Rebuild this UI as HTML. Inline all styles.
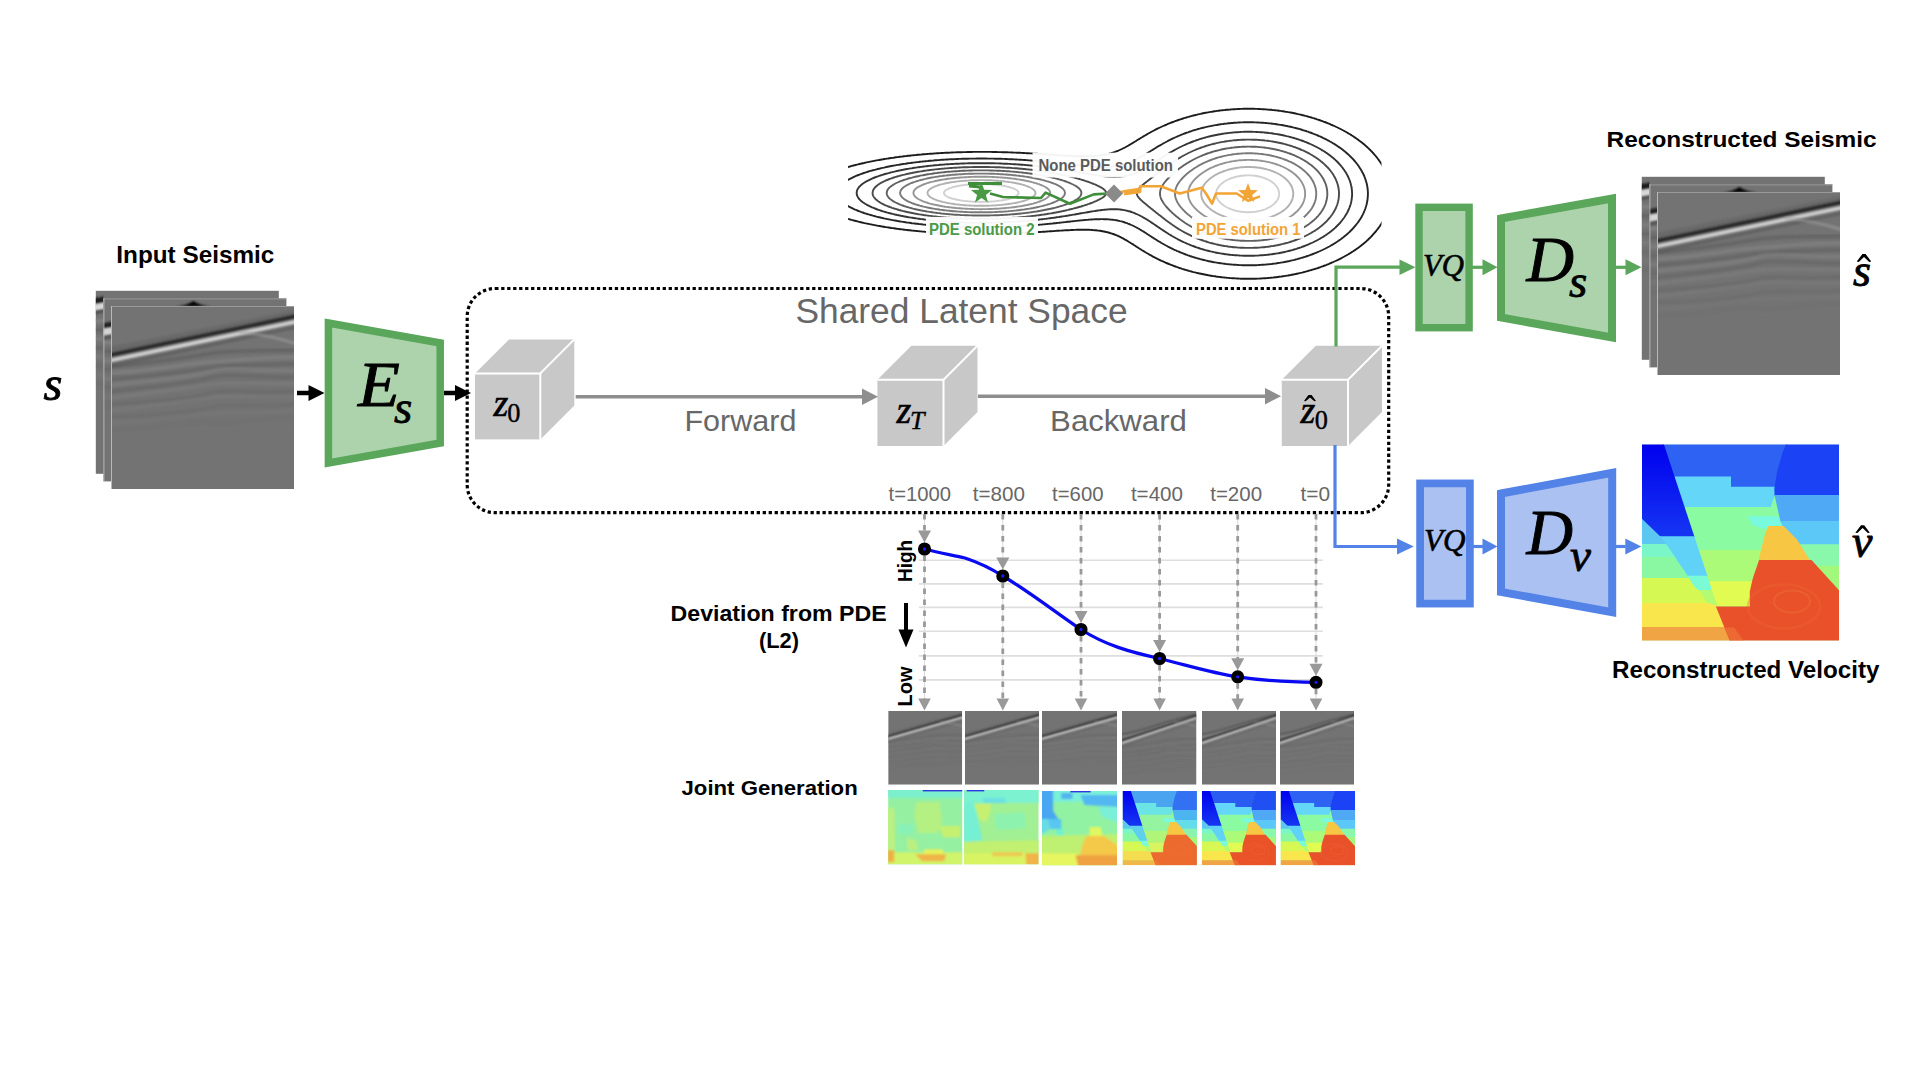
<!DOCTYPE html>
<html><head><meta charset="utf-8"><title>diagram</title>
<style>html,body{margin:0;padding:0;background:#fff;width:1920px;height:1080px;overflow:hidden}svg{display:block}</style>
</head><body>
<svg width="1920" height="1080" viewBox="0 0 1920 1080">
<defs>
<filter id="bl1" x="-10%" y="-10%" width="120%" height="120%"><feGaussianBlur stdDeviation="1.05"/></filter><filter id="bl2" x="-10%" y="-10%" width="120%" height="120%"><feGaussianBlur stdDeviation="1.4"/></filter><filter id="bl1t" x="-20%" y="-20%" width="140%" height="140%"><feGaussianBlur stdDeviation="2.6"/></filter><filter id="bl2t" x="-20%" y="-20%" width="140%" height="140%"><feGaussianBlur stdDeviation="4"/></filter><filter id="bl3" x="-10%" y="-10%" width="120%" height="120%"><feGaussianBlur stdDeviation="3"/></filter><symbol id="seis0" viewBox="0 0 183 183" preserveAspectRatio="none"><rect width="183" height="183" fill="#737373"/><clipPath id="cseis0"><rect width="183" height="183"/></clipPath><g clip-path="url(#cseis0)"><path d="M-5,61.0 C40,56.9 80,50.9 100,47.4 S150,44.9 188,44.0" fill="none" stroke="#5c5c5c" stroke-width="2.80" opacity="0.80" filter="url(#bl2)"/><path d="M-5,67.3 C40,65.2 80,56.7 100,55.9 S150,51.1 188,50.7" fill="none" stroke="#888888" stroke-width="2.80" opacity="0.73" filter="url(#bl2)"/><path d="M-5,73.6 C40,70.8 80,64.8 100,61.7 S150,59.6 188,57.4" fill="none" stroke="#5c5c5c" stroke-width="2.80" opacity="0.66" filter="url(#bl2)"/><path d="M-5,79.9 C40,74.2 80,71.9 100,65.3 S150,67.1 188,64.1" fill="none" stroke="#888888" stroke-width="2.80" opacity="0.60" filter="url(#bl2)"/><path d="M-5,86.2 C40,80.4 80,77.8 100,71.7 S150,73.4 188,70.8" fill="none" stroke="#5c5c5c" stroke-width="2.80" opacity="0.53" filter="url(#bl2)"/><path d="M-5,92.5 C40,86.9 80,82.0 100,78.4 S150,78.0 188,77.5" fill="none" stroke="#888888" stroke-width="2.80" opacity="0.46" filter="url(#bl2)"/><path d="M-5,98.8 C40,95.3 80,92.8 100,87.0 S150,89.2 188,84.2" fill="none" stroke="#5c5c5c" stroke-width="2.80" opacity="0.39" filter="url(#bl2)"/><path d="M-5,105.1 C40,99.8 80,95.4 100,91.7 S150,92.2 188,90.9" fill="none" stroke="#888888" stroke-width="2.80" opacity="0.32" filter="url(#bl2)"/><path d="M-5,111.4 C40,109.2 80,106.1 100,101.3 S150,103.3 188,97.6" fill="none" stroke="#5c5c5c" stroke-width="2.80" opacity="0.26" filter="url(#bl2)"/><path d="M-5,117.7 C40,115.2 80,109.1 100,107.5 S150,106.7 188,104.3" fill="none" stroke="#888888" stroke-width="2.80" opacity="0.19" filter="url(#bl2)"/><path d="M-5,124.0 C40,123.9 80,113.3 100,116.4 S150,111.3 188,111.0" fill="none" stroke="#5c5c5c" stroke-width="2.80" opacity="0.12" filter="url(#bl2)"/><path d="M-5,130.3 C40,129.5 80,121.0 100,122.2 S150,119.4 188,117.7" fill="none" stroke="#888888" stroke-width="2.80" opacity="0.05" filter="url(#bl2)"/><path d="M-3,50.5 L186,11.0 L186,4.0 L-3,41.5 Z" fill="#555" opacity="0.35" filter="url(#bl2)"/><path d="M-3,49.5 L186,10.0" fill="none" stroke="#262626" stroke-width="3.60" filter="url(#bl1)"/><path d="M-3,55 L186,15.5" fill="none" stroke="#d2d2d2" stroke-width="3.80" filter="url(#bl1)"/><path d="M-3,60.5 L186,21.0" fill="none" stroke="#555" stroke-width="3.00" opacity="0.6" filter="url(#bl1)"/><path d="M128,26.0 Q158,29.0 186,38.0" fill="none" stroke="#a0a0a0" stroke-width="3" opacity="0.55" filter="url(#bl1)"/></g></symbol><symbol id="seisT" viewBox="0 0 183 183" preserveAspectRatio="none"><rect width="183" height="183" fill="#737373"/><clipPath id="cseisT"><rect width="183" height="183"/></clipPath><g clip-path="url(#cseisT)"><path d="M-5,76.5 C40,72.4 80,66.4 100,62.9 S150,60.4 188,59.5" fill="none" stroke="#5c5c5c" stroke-width="4.20" opacity="0.48" filter="url(#bl2t)"/><path d="M-5,82.8 C40,80.7 80,72.2 100,71.4 S150,66.6 188,66.2" fill="none" stroke="#888888" stroke-width="4.20" opacity="0.44" filter="url(#bl2t)"/><path d="M-5,89.1 C40,86.3 80,80.3 100,77.2 S150,75.1 188,72.9" fill="none" stroke="#5c5c5c" stroke-width="4.20" opacity="0.40" filter="url(#bl2t)"/><path d="M-5,95.4 C40,89.7 80,87.4 100,80.8 S150,82.6 188,79.6" fill="none" stroke="#888888" stroke-width="4.20" opacity="0.36" filter="url(#bl2t)"/><path d="M-5,101.7 C40,95.9 80,93.3 100,87.2 S150,88.9 188,86.3" fill="none" stroke="#5c5c5c" stroke-width="4.20" opacity="0.32" filter="url(#bl2t)"/><path d="M-5,108.0 C40,102.4 80,97.5 100,93.9 S150,93.5 188,93.0" fill="none" stroke="#888888" stroke-width="4.20" opacity="0.28" filter="url(#bl2t)"/><path d="M-5,114.3 C40,110.8 80,108.3 100,102.5 S150,104.7 188,99.7" fill="none" stroke="#5c5c5c" stroke-width="4.20" opacity="0.24" filter="url(#bl2t)"/><path d="M-5,120.6 C40,115.3 80,110.9 100,107.2 S150,107.7 188,106.4" fill="none" stroke="#888888" stroke-width="4.20" opacity="0.19" filter="url(#bl2t)"/><path d="M-5,126.9 C40,124.7 80,121.6 100,116.8 S150,118.8 188,113.1" fill="none" stroke="#5c5c5c" stroke-width="4.20" opacity="0.15" filter="url(#bl2t)"/><path d="M-5,133.2 C40,130.7 80,124.6 100,123.0 S150,122.2 188,119.8" fill="none" stroke="#888888" stroke-width="4.20" opacity="0.11" filter="url(#bl2t)"/><path d="M-5,139.5 C40,139.4 80,128.8 100,131.9 S150,126.8 188,126.5" fill="none" stroke="#5c5c5c" stroke-width="4.20" opacity="0.07" filter="url(#bl2t)"/><path d="M-5,145.8 C40,145.0 80,136.5 100,137.7 S150,134.9 188,133.2" fill="none" stroke="#888888" stroke-width="4.20" opacity="0.03" filter="url(#bl2t)"/><path d="M-3,66.0 L186,11.2 L186,4.199999999999999 L-3,57.0 Z" fill="#555" opacity="0.35" filter="url(#bl2t)"/><path d="M-3,65.0 L186,10.2" fill="none" stroke="#262626" stroke-width="5.40" filter="url(#bl1t)"/><path d="M-3,70.5 L186,15.7" fill="none" stroke="#d2d2d2" stroke-width="5.70" filter="url(#bl1t)"/><path d="M-3,76.0 L186,21.2" fill="none" stroke="#555" stroke-width="4.50" opacity="0.6" filter="url(#bl1t)"/><path d="M128,26.2 Q158,29.2 186,38.2" fill="none" stroke="#a0a0a0" stroke-width="3" opacity="0.55" filter="url(#bl1t)"/></g></symbol><symbol id="seis4" viewBox="0 0 183 183" preserveAspectRatio="none"><rect width="183" height="183" fill="#737373"/><clipPath id="cseis4"><rect width="183" height="183"/></clipPath><g clip-path="url(#cseis4)"><path d="M-5,91.0 C40,86.9 80,80.9 100,75.4 S150,70.9 188,70.0" fill="none" stroke="#5c5c5c" stroke-width="4.20" opacity="0.48" filter="url(#bl2t)"/><path d="M-5,97.3 C40,95.2 80,86.7 100,83.9 S150,77.1 188,76.7" fill="none" stroke="#888888" stroke-width="4.20" opacity="0.44" filter="url(#bl2t)"/><path d="M-5,103.6 C40,100.8 80,94.8 100,89.7 S150,85.6 188,83.4" fill="none" stroke="#5c5c5c" stroke-width="4.20" opacity="0.40" filter="url(#bl2t)"/><path d="M-5,109.9 C40,104.2 80,101.9 100,93.3 S150,93.1 188,90.1" fill="none" stroke="#888888" stroke-width="4.20" opacity="0.36" filter="url(#bl2t)"/><path d="M-5,116.2 C40,110.4 80,107.8 100,99.7 S150,99.4 188,96.8" fill="none" stroke="#5c5c5c" stroke-width="4.20" opacity="0.32" filter="url(#bl2t)"/><path d="M-5,122.5 C40,116.9 80,112.0 100,106.4 S150,104.0 188,103.5" fill="none" stroke="#888888" stroke-width="4.20" opacity="0.28" filter="url(#bl2t)"/><path d="M-5,128.8 C40,125.3 80,122.8 100,115.0 S150,115.2 188,110.2" fill="none" stroke="#5c5c5c" stroke-width="4.20" opacity="0.24" filter="url(#bl2t)"/><path d="M-5,135.1 C40,129.8 80,125.4 100,119.7 S150,118.2 188,116.9" fill="none" stroke="#888888" stroke-width="4.20" opacity="0.19" filter="url(#bl2t)"/><path d="M-5,141.4 C40,139.2 80,136.1 100,129.3 S150,129.3 188,123.6" fill="none" stroke="#5c5c5c" stroke-width="4.20" opacity="0.15" filter="url(#bl2t)"/><path d="M-5,147.7 C40,145.2 80,139.1 100,135.5 S150,132.7 188,130.3" fill="none" stroke="#888888" stroke-width="4.20" opacity="0.11" filter="url(#bl2t)"/><path d="M-5,154.0 C40,153.9 80,143.3 100,144.4 S150,137.3 188,137.0" fill="none" stroke="#5c5c5c" stroke-width="4.20" opacity="0.07" filter="url(#bl2t)"/><path d="M-5,160.3 C40,159.5 80,151.0 100,150.2 S150,145.4 188,143.7" fill="none" stroke="#888888" stroke-width="4.20" opacity="0.03" filter="url(#bl2t)"/><path d="M-3,76.5 L186,12.2 L186,5.199999999999999 L-3,67.5 Z" fill="#555" opacity="0.35" filter="url(#bl2t)"/><path d="M-3,59.5 C60,51.5 120,19 186,11" fill="none" stroke="#3c3c3c" stroke-width="4.50" opacity="0.6" filter="url(#bl1t)"/><path d="M-3,64.0 C60,56.0 120,23 186,15.5" fill="none" stroke="#9c9c9c" stroke-width="4.50" opacity="0.6" filter="url(#bl1t)"/><path d="M-3,75.5 L186,11.2" fill="none" stroke="#262626" stroke-width="5.40" filter="url(#bl1t)"/><path d="M-3,81 L186,16.7" fill="none" stroke="#d2d2d2" stroke-width="5.70" filter="url(#bl1t)"/><path d="M-3,86.5 L186,22.2" fill="none" stroke="#555" stroke-width="4.50" opacity="0.6" filter="url(#bl1t)"/><path d="M128,27.2 Q158,30.2 186,39.2" fill="none" stroke="#a0a0a0" stroke-width="3" opacity="0.55" filter="url(#bl1t)"/></g></symbol><filter id="blU" filterUnits="userSpaceOnUse" x="0" y="0" width="1920" height="1080"><feGaussianBlur stdDeviation="0.9"/></filter><filter id="blU2" filterUnits="userSpaceOnUse" x="0" y="0" width="1920" height="1080"><feGaussianBlur stdDeviation="1.6"/></filter><linearGradient id="velgdb" x1="0" y1="0" x2="0" y2="1"><stop offset="0" stop-color="#0000ee"/><stop offset="1" stop-color="#1636f2"/></linearGradient><symbol id="vel" viewBox="0 0 197 196" preserveAspectRatio="none"><rect width="197" height="196" fill="#8bfba2"/><polygon points="31.9,33.0 135.1,33.0 136.2,26.0 141.4,8.2 145.2,-0.5 20.9,-0.5" fill="#2d62f2"/><polygon points="42.0,63.5 136.3,63.5 133.4,50.9 133.3,44.2 135.2,32.0 31.6,32.0" fill="#64d7f8"/><polygon points="56.2,106.5 119.7,106.5 120.9,101.4 124.0,89.1 127.0,82.5 142.1,82.5 139.3,76.7 136.1,62.5 41.7,62.5" fill="#8bfba2"/><polygon points="66.5,137.6 113.1,137.6 117.4,115.6 119.9,105.5 55.9,105.5" fill="#abfb79"/><polygon points="74.6,162.1 108.4,162.1 113.3,136.8 66.2,136.8" fill="#e2fb52"/><polygon points="89.0,31.0 139.0,31.0 135.5,42.2 89.0,42.2" fill="#2d62f2"/><polygon points="132.7,50.9 125.7,71.9 125.7,71.9 125.7,72.0 125.7,72.0 125.7,72.0 125.7,72.1 127.7,82.1 127.7,82.1 127.7,82.1 127.7,82.1 127.8,82.2 127.8,82.2 127.8,82.2 127.8,82.2 127.8,82.2 127.9,82.3 127.9,82.3 127.9,82.3 127.9,82.3 128.0,82.3 128.0,82.3 141.4,82.3 141.4,82.3 141.5,82.3 141.5,82.3 141.5,82.3 141.5,82.3 141.6,82.3 141.6,82.2 141.6,82.2 141.6,82.2 141.6,82.2 141.7,82.1 141.7,82.1 141.7,82.1 141.7,82.1 141.7,82.0 141.7,82.0 141.7,82.0 141.7,82.0 141.7,81.9 141.7,81.9 141.7,81.9 139.2,76.8 133.3,50.9 133.3,50.9 133.3,50.9 133.3,50.9 133.2,50.8 133.2,50.8 133.2,50.8 133.2,50.8 133.2,50.7 133.1,50.7 133.1,50.7 133.1,50.7 133.0,50.7 133.0,50.7 133.0,50.7 133.0,50.7 132.9,50.7 132.9,50.7 132.9,50.7 132.8,50.7 132.8,50.8 132.8,50.8 132.8,50.8 132.8,50.8 132.7,50.9 132.7,50.9" fill="#8bfba2"/><polygon points="106.0,71.8 136.0,71.8 139.5,79.0 141.4,84.0 120.0,84.0 110.0,80.0" fill="#79f9de"/><polygon points="-0.5,75.2 17.7,92.5 17.8,92.7 52.6,92.7 21.8,-0.5 -0.5,-0.5" fill="url(#velgdb)"/><polygon points="17.7,92.5 23.2,99.7 30.9,110.8 36.5,119.7 42.0,127.4 44.9,132.1 65.6,132.1 52.3,91.8 16.9,91.8" fill="#60d2f7"/><polygon points="45.4,133.0 52.1,143.1 56.3,146.4 70.3,146.4 65.3,131.2 44.3,131.2" fill="#7afbd6"/><polygon points="57.7,147.5 64.4,158.7 74.4,162.1 75.5,162.1 70.0,145.6 55.2,145.6" fill="#b2fb72"/><polygon points="-0.5,100.5 24.9,100.5 24.0,99.1 18.3,91.9 0.2,74.5 -0.5,74.5" fill="#5cc7f1"/><polygon points="-0.5,113.2 33.5,113.2 31.7,110.4 24.2,99.5 -0.5,99.5" fill="#7af6c8"/><polygon points="-0.5,134.3 47.4,134.3 46.2,132.6 42.8,127.0 37.3,119.1 32.9,112.3 -0.5,112.3" fill="#8af8a2"/><polygon points="-0.5,159.3 69.1,159.3 65.0,157.9 58.3,146.9 52.7,142.5 46.8,133.5 -0.5,133.5" fill="#d6f853"/><polygon points="-0.5,183.4 83.9,183.4 74.8,161.3 66.5,158.5 -0.5,158.5" fill="#f8e64c"/><polygon points="-0.5,196.4 89.2,196.4 83.5,182.6 -0.5,182.6" fill="#f0a444"/><polygon points="140.6,7.8 135.4,25.8 132.3,44.2 132.6,51.1 132.6,51.4 198.4,51.4 198.4,-0.5 144.2,-0.5" fill="#1b42f4"/><polygon points="132.6,51.1 138.5,77.1 138.6,77.4 198.4,77.4 198.4,50.4 132.5,50.4" fill="#50a9f5"/><polygon points="138.5,77.1 141.0,82.3 154.3,95.5 157.2,100.8 198.4,100.8 198.4,76.5 138.3,76.5" fill="#5cc8f8"/><polygon points="165.5,115.9 171.9,122.2 198.4,122.2 198.4,99.8 156.7,99.8" fill="#8af8ab"/><polygon points="198.3,148.4 198.4,148.4 198.4,121.3 171.0,121.3" fill="#a2f87a"/><polygon points="126.4,81.6 123.2,88.9 120.1,101.2 116.5,116.2 168.2,116.2 155.0,94.9 141.6,81.6" fill="#f7c744"/><polygon points="73.9,162.1 88.2,197.4 198.4,197.4 198.4,147.3 169.5,115.6 117.1,115.6 113.6,125.6 110.6,134.4 107.8,147.0 107.8,162.1" fill="#e9512a"/><ellipse cx="142" cy="162" rx="36" ry="22" fill="none" stroke="#ee6a34" stroke-width="2.5" opacity="0.35"/><ellipse cx="150" cy="157" rx="18" ry="11" fill="none" stroke="#f07a3a" stroke-width="2" opacity="0.35"/><path d="M88.5,196.5 L102,196.5 L92,183 L82,183 Z" fill="#ee7a3a" opacity="0.6"/></symbol><symbol id="vel4" viewBox="0 0 197 196" preserveAspectRatio="none"><rect width="197" height="196" fill="#8bfba2"/><polygon points="31.9,33.0 135.1,33.0 136.2,26.0 141.4,8.2 145.2,-0.5 20.9,-0.5" fill="#4aa4f0"/><polygon points="42.0,63.5 136.3,63.5 133.4,50.9 133.3,44.2 135.2,32.0 31.6,32.0" fill="#6ae4e4"/><polygon points="56.2,106.5 119.7,106.5 120.9,101.4 124.0,89.1 127.0,82.5 142.1,82.5 139.3,76.7 136.1,62.5 41.7,62.5" fill="#94f4a0"/><polygon points="66.5,137.6 113.1,137.6 117.4,115.6 119.9,105.5 55.9,105.5" fill="#b0f478"/><polygon points="74.6,162.1 108.4,162.1 113.3,136.8 66.2,136.8" fill="#d8f460"/><polygon points="89.0,31.0 139.0,31.0 135.5,42.2 89.0,42.2" fill="#4aa4f0"/><polygon points="132.7,50.9 125.7,71.9 125.7,71.9 125.7,72.0 125.7,72.0 125.7,72.0 125.7,72.1 127.7,82.1 127.7,82.1 127.7,82.1 127.7,82.1 127.8,82.2 127.8,82.2 127.8,82.2 127.8,82.2 127.8,82.2 127.9,82.3 127.9,82.3 127.9,82.3 127.9,82.3 128.0,82.3 128.0,82.3 141.4,82.3 141.4,82.3 141.5,82.3 141.5,82.3 141.5,82.3 141.5,82.3 141.6,82.3 141.6,82.2 141.6,82.2 141.6,82.2 141.6,82.2 141.7,82.1 141.7,82.1 141.7,82.1 141.7,82.1 141.7,82.0 141.7,82.0 141.7,82.0 141.7,82.0 141.7,81.9 141.7,81.9 141.7,81.9 139.2,76.8 133.3,50.9 133.3,50.9 133.3,50.9 133.3,50.9 133.2,50.8 133.2,50.8 133.2,50.8 133.2,50.8 133.2,50.7 133.1,50.7 133.1,50.7 133.1,50.7 133.0,50.7 133.0,50.7 133.0,50.7 133.0,50.7 132.9,50.7 132.9,50.7 132.9,50.7 132.8,50.7 132.8,50.8 132.8,50.8 132.8,50.8 132.8,50.8 132.7,50.9 132.7,50.9" fill="#94f4a0"/><polygon points="106.0,71.8 136.0,71.8 139.5,79.0 141.4,84.0 120.0,84.0 110.0,80.0" fill="#79f9de"/><polygon points="-0.5,75.2 17.7,92.5 17.8,92.7 52.6,92.7 21.8,-0.5 -0.5,-0.5" fill="url(#velgdb)"/><polygon points="17.7,92.5 23.2,99.7 30.9,110.8 36.5,119.7 42.0,127.4 44.9,132.1 65.6,132.1 52.3,91.8 16.9,91.8" fill="#5ed0ee"/><polygon points="45.4,133.0 52.1,143.1 56.3,146.4 70.3,146.4 65.3,131.2 44.3,131.2" fill="#7afbd6"/><polygon points="57.7,147.5 64.4,158.7 74.4,162.1 75.5,162.1 70.0,145.6 55.2,145.6" fill="#b2fb72"/><polygon points="-0.5,100.5 24.9,100.5 24.0,99.1 18.3,91.9 0.2,74.5 -0.5,74.5" fill="#5cc8ee"/><polygon points="-0.5,113.2 33.5,113.2 31.7,110.4 24.2,99.5 -0.5,99.5" fill="#7af6c8"/><polygon points="-0.5,134.3 47.4,134.3 46.2,132.6 42.8,127.0 37.3,119.1 32.9,112.3 -0.5,112.3" fill="#8af8a2"/><polygon points="-0.5,159.3 69.1,159.3 65.0,157.9 58.3,146.9 52.7,142.5 46.8,133.5 -0.5,133.5" fill="#d6f853"/><polygon points="-0.5,183.4 83.9,183.4 74.8,161.3 66.5,158.5 -0.5,158.5" fill="#f4de50"/><polygon points="-0.5,196.4 89.2,196.4 83.5,182.6 -0.5,182.6" fill="#f0b848"/><polygon points="140.6,7.8 135.4,25.8 132.3,44.2 132.6,51.1 132.6,51.4 198.4,51.4 198.4,-0.5 144.2,-0.5" fill="#3272f2"/><polygon points="132.6,51.1 138.5,77.1 138.6,77.4 198.4,77.4 198.4,50.4 132.5,50.4" fill="#4cb4f0"/><polygon points="138.5,77.1 141.0,82.3 154.3,95.5 157.2,100.8 198.4,100.8 198.4,76.5 138.3,76.5" fill="#64dcea"/><polygon points="165.5,115.9 171.9,122.2 198.4,122.2 198.4,99.8 156.7,99.8" fill="#8cf2b0"/><polygon points="198.3,148.4 198.4,148.4 198.4,121.3 171.0,121.3" fill="#a2f87a"/><polygon points="126.4,81.6 123.2,88.9 120.1,101.2 116.5,116.2 168.2,116.2 155.0,94.9 141.6,81.6" fill="#f7c744"/><polygon points="73.9,162.1 88.2,197.4 198.4,197.4 198.4,147.3 169.5,115.6 117.1,115.6 113.6,125.6 110.6,134.4 107.8,147.0 107.8,162.1" fill="#ec6a2e"/><ellipse cx="142" cy="162" rx="36" ry="22" fill="none" stroke="#ee6a34" stroke-width="2.5" opacity="0.35"/><ellipse cx="150" cy="157" rx="18" ry="11" fill="none" stroke="#f07a3a" stroke-width="2" opacity="0.35"/><path d="M88.5,196.5 L102,196.5 L92,183 L82,183 Z" fill="#ee7a3a" opacity="0.6"/></symbol><symbol id="vel5" viewBox="0 0 197 196" preserveAspectRatio="none"><rect width="197" height="196" fill="#8bfba2"/><polygon points="31.9,33.0 135.1,33.0 136.2,26.0 141.4,8.2 145.2,-0.5 20.9,-0.5" fill="#2a5cf2"/><polygon points="42.0,63.5 136.3,63.5 133.4,50.9 133.3,44.2 135.2,32.0 31.6,32.0" fill="#64d7f8"/><polygon points="56.2,106.5 119.7,106.5 120.9,101.4 124.0,89.1 127.0,82.5 142.1,82.5 139.3,76.7 136.1,62.5 41.7,62.5" fill="#8bfba2"/><polygon points="66.5,137.6 113.1,137.6 117.4,115.6 119.9,105.5 55.9,105.5" fill="#abfb79"/><polygon points="74.6,162.1 108.4,162.1 113.3,136.8 66.2,136.8" fill="#e2fb52"/><polygon points="89.0,31.0 139.0,31.0 135.5,42.2 89.0,42.2" fill="#2a5cf2"/><polygon points="132.7,50.9 125.7,71.9 125.7,71.9 125.7,72.0 125.7,72.0 125.7,72.0 125.7,72.1 127.7,82.1 127.7,82.1 127.7,82.1 127.7,82.1 127.8,82.2 127.8,82.2 127.8,82.2 127.8,82.2 127.8,82.2 127.9,82.3 127.9,82.3 127.9,82.3 127.9,82.3 128.0,82.3 128.0,82.3 141.4,82.3 141.4,82.3 141.5,82.3 141.5,82.3 141.5,82.3 141.5,82.3 141.6,82.3 141.6,82.2 141.6,82.2 141.6,82.2 141.6,82.2 141.7,82.1 141.7,82.1 141.7,82.1 141.7,82.1 141.7,82.0 141.7,82.0 141.7,82.0 141.7,82.0 141.7,81.9 141.7,81.9 141.7,81.9 139.2,76.8 133.3,50.9 133.3,50.9 133.3,50.9 133.3,50.9 133.2,50.8 133.2,50.8 133.2,50.8 133.2,50.8 133.2,50.7 133.1,50.7 133.1,50.7 133.1,50.7 133.0,50.7 133.0,50.7 133.0,50.7 133.0,50.7 132.9,50.7 132.9,50.7 132.9,50.7 132.8,50.7 132.8,50.8 132.8,50.8 132.8,50.8 132.8,50.8 132.7,50.9 132.7,50.9" fill="#8bfba2"/><polygon points="106.0,71.8 136.0,71.8 139.5,79.0 141.4,84.0 120.0,84.0 110.0,80.0" fill="#79f9de"/><polygon points="-0.5,75.2 17.7,92.5 17.8,92.7 52.6,92.7 21.8,-0.5 -0.5,-0.5" fill="url(#velgdb)"/><polygon points="17.7,92.5 23.2,99.7 30.9,110.8 36.5,119.7 42.0,127.4 44.9,132.1 65.6,132.1 52.3,91.8 16.9,91.8" fill="#60d2f7"/><polygon points="45.4,133.0 52.1,143.1 56.3,146.4 70.3,146.4 65.3,131.2 44.3,131.2" fill="#7afbd6"/><polygon points="57.7,147.5 64.4,158.7 74.4,162.1 75.5,162.1 70.0,145.6 55.2,145.6" fill="#b2fb72"/><polygon points="-0.5,100.5 24.9,100.5 24.0,99.1 18.3,91.9 0.2,74.5 -0.5,74.5" fill="#5cc7f1"/><polygon points="-0.5,113.2 33.5,113.2 31.7,110.4 24.2,99.5 -0.5,99.5" fill="#7af6c8"/><polygon points="-0.5,134.3 47.4,134.3 46.2,132.6 42.8,127.0 37.3,119.1 32.9,112.3 -0.5,112.3" fill="#8af8a2"/><polygon points="-0.5,159.3 69.1,159.3 65.0,157.9 58.3,146.9 52.7,142.5 46.8,133.5 -0.5,133.5" fill="#d6f853"/><polygon points="-0.5,183.4 83.9,183.4 74.8,161.3 66.5,158.5 -0.5,158.5" fill="#f8e64c"/><polygon points="-0.5,196.4 89.2,196.4 83.5,182.6 -0.5,182.6" fill="#f0a444"/><polygon points="140.6,7.8 135.4,25.8 132.3,44.2 132.6,51.1 132.6,51.4 198.4,51.4 198.4,-0.5 144.2,-0.5" fill="#2050f2"/><polygon points="132.6,51.1 138.5,77.1 138.6,77.4 198.4,77.4 198.4,50.4 132.5,50.4" fill="#50a9f5"/><polygon points="138.5,77.1 141.0,82.3 154.3,95.5 157.2,100.8 198.4,100.8 198.4,76.5 138.3,76.5" fill="#5cc8f8"/><polygon points="165.5,115.9 171.9,122.2 198.4,122.2 198.4,99.8 156.7,99.8" fill="#8af8ab"/><polygon points="198.3,148.4 198.4,148.4 198.4,121.3 171.0,121.3" fill="#a2f87a"/><polygon points="126.4,81.6 123.2,88.9 120.1,101.2 116.5,116.2 168.2,116.2 155.0,94.9 141.6,81.6" fill="#f7c744"/><polygon points="73.9,162.1 88.2,197.4 198.4,197.4 198.4,147.3 169.5,115.6 117.1,115.6 113.6,125.6 110.6,134.4 107.8,147.0 107.8,162.1" fill="#ea5228"/><ellipse cx="142" cy="162" rx="36" ry="22" fill="none" stroke="#ee6a34" stroke-width="2.5" opacity="0.35"/><ellipse cx="150" cy="157" rx="18" ry="11" fill="none" stroke="#f07a3a" stroke-width="2" opacity="0.35"/><path d="M88.5,196.5 L102,196.5 L92,183 L82,183 Z" fill="#ee7a3a" opacity="0.6"/></symbol><filter id="blN" filterUnits="userSpaceOnUse" x="-10" y="-10" width="100" height="100"><feGaussianBlur stdDeviation="1.3"/></filter><symbol id="veln1" viewBox="0 0 74 74" preserveAspectRatio="none"><clipPath id="clveln1"><rect width="74" height="74"/></clipPath><g clip-path="url(#clveln1)"><rect x="-2" y="-2" width="78" height="78" fill="#96f0a2"/><g filter="url(#blN)"><polygon points="-2,-2 76,-2 76,8 -2,8" fill="#7cf0cc" opacity="1"/><polygon points="28,12 51,12 54,30 50,43 30,43 26,26" fill="#b4f082" opacity="1"/><polygon points="51,36 72,36 72,47 55,47" fill="#c6f070" opacity="1"/><polygon points="-2,18 6,18 7,60 -2,60" fill="#bcf080" opacity="1"/><polygon points="10,34 26,34 24,44 10,44" fill="#84f2bc" opacity="0.8"/><polygon points="18,48 28,50 30,60 20,60" fill="#c4f078" opacity="0.8"/><polygon points="-2,62 76,62 76,76 -2,76" fill="#d0f46c" opacity="1"/><polygon points="36,59 54,59 56,65 36,65" fill="#e6f25c" opacity="1"/><polygon points="27,64 58,64 56,71 34,71" fill="#f0b448" opacity="1"/><polygon points="-2,60 6,60 6,72 -2,72" fill="#f0b040" opacity="1"/></g><rect x="34.6" y="0" width="40" height="1.4" fill="#3038e0"/></g></symbol><symbol id="veln2" viewBox="0 0 74 74" preserveAspectRatio="none"><clipPath id="clveln2"><rect width="74" height="74"/></clipPath><g clip-path="url(#clveln2)"><rect x="-2" y="-2" width="78" height="78" fill="#a2f094"/><g filter="url(#blN)"><polygon points="-2,-2 76,-2 76,13 -2,13" fill="#7cf2d0" opacity="1"/><polygon points="18,8 40,8 42,13 20,13" fill="#62d8ee" opacity="0.7"/><polygon points="-2,13 10,13 18,50 -2,52" fill="#74f0d4" opacity="1"/><polygon points="10,14 27,14 25,24 22,32 16,30" fill="#c8f070" opacity="1"/><polygon points="30,24 60,22 62,38 32,40" fill="#88f2b4" opacity="0.8"/><polygon points="-2,52 76,50 76,76 -2,76" fill="#c2f070" opacity="1"/><polygon points="-2,63 76,63 76,76 -2,76" fill="#d8f462" opacity="1"/><polygon points="28,62 58,62 58,66 28,66" fill="#f0c450" opacity="0.9"/><polygon points="61,63 76,63 76,76 62,76" fill="#f0b44a" opacity="1"/></g><rect x="2.5" y="0" width="17.5" height="1.4" fill="#3038e0"/></g></symbol><symbol id="veln3" viewBox="0 0 74 74" preserveAspectRatio="none"><clipPath id="clveln3"><rect width="74" height="74"/></clipPath><g clip-path="url(#clveln3)"><rect x="-2" y="-2" width="78" height="78" fill="#92f2a4"/><g filter="url(#blN)"><polygon points="-2,-2 76,-2 76,11 -2,11" fill="#7af0d8" opacity="1"/><polygon points="38,4 76,4 76,16 42,14" fill="#52b8f2" opacity="1"/><polygon points="19,2 30,2 30,8 19,8" fill="#52b4f0" opacity="1"/><polygon points="55,16 76,16 76,32 60,26" fill="#7af0d8" opacity="1"/><polygon points="-2,-2 11,-2 11,20 16,28 -2,28" fill="#4aa6f0" opacity="1"/><polygon points="6,28 19,28 19,38 8,38" fill="#58c6f0" opacity="1"/><polygon points="-2,28 6,28 8,38 -2,44" fill="#66dce6" opacity="1"/><polygon points="14,38 21,38 21,47 15,47" fill="#70f0d0" opacity="1"/><polygon points="-2,45 76,43 76,76 -2,76" fill="#bef072" opacity="1"/><polygon points="47,36 58,36 60,47 47,47" fill="#e0f860" opacity="1"/><polygon points="44,45 61,45 76,55 76,76 35,76 40,53" fill="#f4c848" opacity="1"/><polygon points="-2,62 35,62 37,76 -2,76" fill="#e6f660" opacity="1"/><polygon points="33,64 76,64 76,76 36,76" fill="#f0a242" opacity="1"/></g><rect x="28" y="0" width="20" height="1.4" fill="#3038e0"/></g></symbol><clipPath id="cclip"><rect x="848" y="100" width="533.5" height="185"/></clipPath>
</defs>
<rect width="1920" height="1080" fill="#fff"/>
<text x="43.5" y="399.5" font-family="Liberation Serif" font-size="48.5" font-weight="normal" font-style="italic" fill="#000" text-anchor="start" stroke="#000" stroke-width="0.9">s</text><text x="116.3" y="263" font-family="Liberation Sans" font-size="24.5" font-weight="bold" font-style="normal" fill="#000" text-anchor="start" textLength="158" lengthAdjust="spacingAndGlyphs">Input Seismic</text><rect x="95.8" y="290.8" width="183" height="183" fill="#737373"/><clipPath id="cb111"><rect x="95.8" y="290.8" width="7.6" height="183"/></clipPath><g clip-path="url(#cb111)"><rect x="92.8" y="318.8" width="13.6" height="4" fill="#858585" opacity="0.80" filter="url(#blU2)"/><rect x="92.8" y="327.8" width="13.6" height="4" fill="#606060" opacity="0.71" filter="url(#blU2)"/><rect x="92.8" y="336.8" width="13.6" height="4" fill="#858585" opacity="0.62" filter="url(#blU2)"/><rect x="92.8" y="345.8" width="13.6" height="4" fill="#606060" opacity="0.53" filter="url(#blU2)"/><rect x="92.8" y="354.8" width="13.6" height="4" fill="#858585" opacity="0.44" filter="url(#blU2)"/><rect x="92.8" y="363.8" width="13.6" height="4" fill="#606060" opacity="0.35" filter="url(#blU2)"/><rect x="92.8" y="372.8" width="13.6" height="4" fill="#858585" opacity="0.26" filter="url(#blU2)"/><rect x="92.8" y="381.8" width="13.6" height="4" fill="#606060" opacity="0.17" filter="url(#blU2)"/><rect x="92.8" y="390.8" width="13.6" height="4" fill="#858585" opacity="0.08" filter="url(#blU2)"/><polygon points="93.8,298.3 105.39999999999999,296.3 105.39999999999999,302.3 93.8,304.3" fill="#1e1e1e" filter="url(#blU)"/><polygon points="93.8,304.3 105.39999999999999,302.3 105.39999999999999,309.3 93.8,311.3" fill="#d8d8d8" filter="url(#blU)"/><polygon points="93.8,311.3 105.39999999999999,309.3 105.39999999999999,312.3 93.8,314.3" fill="#505050" filter="url(#blU)"/></g><rect x="103.4" y="298.4" width="183" height="183" fill="#737373"/><clipPath id="cm111"><rect x="103.4" y="298.4" width="7.6" height="183"/></clipPath><g clip-path="url(#cm111)"><rect x="100.4" y="340.4" width="13.6" height="4" fill="#858585" opacity="0.80" filter="url(#blU2)"/><rect x="100.4" y="349.4" width="13.6" height="4" fill="#606060" opacity="0.71" filter="url(#blU2)"/><rect x="100.4" y="358.4" width="13.6" height="4" fill="#858585" opacity="0.62" filter="url(#blU2)"/><rect x="100.4" y="367.4" width="13.6" height="4" fill="#606060" opacity="0.53" filter="url(#blU2)"/><rect x="100.4" y="376.4" width="13.6" height="4" fill="#858585" opacity="0.44" filter="url(#blU2)"/><rect x="100.4" y="385.4" width="13.6" height="4" fill="#606060" opacity="0.35" filter="url(#blU2)"/><rect x="100.4" y="394.4" width="13.6" height="4" fill="#858585" opacity="0.26" filter="url(#blU2)"/><rect x="100.4" y="403.4" width="13.6" height="4" fill="#606060" opacity="0.17" filter="url(#blU2)"/><rect x="100.4" y="412.4" width="13.6" height="4" fill="#858585" opacity="0.08" filter="url(#blU2)"/><polygon points="101.4,323.4 113.0,321.4 113.0,327.09999999999997 101.4,329.09999999999997" fill="#222" filter="url(#blU)"/><polygon points="101.4,329.09999999999997 113.0,327.09999999999997 113.0,334.4 101.4,336.4" fill="#d4d4d4" filter="url(#blU)"/><polygon points="101.4,336.4 113.0,334.4 113.0,337.9 101.4,339.9" fill="#555" filter="url(#blU)"/></g><line x1="103.4" y1="298.9" x2="286.4" y2="298.9" stroke="#9a9a9a" stroke-width="1"/><line x1="103.9" y1="298.4" x2="103.9" y2="481.4" stroke="#b8b8b8" stroke-width="1"/><path d="M174.4,306.3 Q187.4,305.5 193.4,300.9 Q199.4,305.5 212.4,306.3 Z" fill="#000" filter="url(#blU)"/><use href="#seis0" x="111" y="306" width="183" height="183"/><line x1="111" y1="306.5" x2="294" y2="306.5" stroke="#9a9a9a" stroke-width="1"/><line x1="111.5" y1="306" x2="111.5" y2="489" stroke="#b8b8b8" stroke-width="1"/><line x1="297" y1="393" x2="309.0" y2="393" stroke="#000" stroke-width="4.5"/><polygon points="308.5,385.0 324.5,393 308.5,401.0" fill="#000"/><polygon points="328.4,323 440.2,343 440.2,443 328.4,463" fill="#acd3ab" stroke="#5aa65b" stroke-width="7.5" stroke-linejoin="miter"/><text x="358" y="406" font-family="Liberation Serif" font-size="64" font-weight="normal" font-style="italic" fill="#000" text-anchor="start" stroke="#000" stroke-width="0.9" textLength="41.8" lengthAdjust="spacingAndGlyphs">E</text><text x="394" y="422.5" font-family="Liberation Serif" font-size="47" font-weight="normal" font-style="italic" fill="#000" text-anchor="start" stroke="#000" stroke-width="0.8">s</text><line x1="444" y1="393" x2="455.5" y2="393" stroke="#000" stroke-width="4.5"/><polygon points="455,385.0 471,393 455,401.0" fill="#000"/><rect x="467.2" y="288.5" width="921.5" height="224.2" rx="28" ry="28" fill="none" stroke="#000" stroke-width="3.2" stroke-dasharray="3.3 2.68"/><text x="795.4" y="322.6" font-family="Liberation Sans" font-size="34.5" font-weight="normal" font-style="normal" fill="#676767" text-anchor="start" textLength="332.2" lengthAdjust="spacingAndGlyphs">Shared Latent Space</text><polygon points="475,373.4 509,339.4 574.3,339.4 540.3,373.4" fill="#c8c8c8"/><polygon points="540.3,373.4 574.3,339.4 574.3,405.4 540.3,439.4" fill="#c8c8c8"/><rect x="475" y="373.4" width="65.3" height="66" fill="#c8c8c8"/><polyline points="475,373.4 540.3,373.4 540.3,439.4" fill="none" stroke="#fff" stroke-width="2"/><line x1="540.3" y1="373.4" x2="574.3" y2="339.4" stroke="#fff" stroke-width="2"/><text x="493.5" y="416.3" font-family="Liberation Serif" font-size="38" font-weight="normal" font-style="italic" fill="#000" text-anchor="start" stroke="#000" stroke-width="0.6">z</text><text x="507.2" y="422" font-family="Liberation Serif" font-size="26.3" font-weight="normal" font-style="normal" fill="#000" text-anchor="start" stroke="#000" stroke-width="0.4">0</text><polygon points="877.4,379.8 911.4,345.8 977.5,345.8 943.5,379.8" fill="#c8c8c8"/><polygon points="943.5,379.8 977.5,345.8 977.5,412.0 943.5,446.0" fill="#c8c8c8"/><rect x="877.4" y="379.8" width="66.1" height="66.2" fill="#c8c8c8"/><polyline points="877.4,379.8 943.5,379.8 943.5,446.0" fill="none" stroke="#fff" stroke-width="2"/><line x1="943.5" y1="379.8" x2="977.5" y2="345.8" stroke="#fff" stroke-width="2"/><text x="896.5" y="422.6" font-family="Liberation Serif" font-size="38" font-weight="normal" font-style="italic" fill="#000" text-anchor="start" stroke="#000" stroke-width="0.6">z</text><text x="910" y="428.8" font-family="Liberation Serif" font-size="26" font-weight="normal" font-style="italic" fill="#000" text-anchor="start" stroke="#000" stroke-width="0.4">T</text><polygon points="1281.8,379.8 1315.8,345.8 1382.0,345.8 1348.0,379.8" fill="#c8c8c8"/><polygon points="1348.0,379.8 1382.0,345.8 1382.0,412.0 1348.0,446.0" fill="#c8c8c8"/><rect x="1281.8" y="379.8" width="66.2" height="66.2" fill="#c8c8c8"/><polyline points="1281.8,379.8 1348.0,379.8 1348.0,446.0" fill="none" stroke="#fff" stroke-width="2"/><line x1="1348.0" y1="379.8" x2="1382.0" y2="345.8" stroke="#fff" stroke-width="2"/><text x="1300.5" y="422.8" font-family="Liberation Serif" font-size="38" font-weight="normal" font-style="italic" fill="#000" text-anchor="start" stroke="#000" stroke-width="0.6">z</text><polygon points="1304.0,401 1308.4,395 1311.6,395 1316.0,401 1314.32,401.3 1310,397.4 1305.68,401.3" fill="#000"/><text x="1314.8" y="428.8" font-family="Liberation Serif" font-size="26.3" font-weight="normal" font-style="normal" fill="#000" text-anchor="start" stroke="#000" stroke-width="0.4">0</text><line x1="575.7" y1="396.8" x2="862.5" y2="396.8" stroke="#8e8e8e" stroke-width="3.4"/><polygon points="862,388.55 878,396.8 862,405.05" fill="#8e8e8e"/><line x1="978" y1="396.2" x2="1265.5" y2="396.2" stroke="#8e8e8e" stroke-width="3.4"/><polygon points="1265,387.95 1281,396.2 1265,404.45" fill="#8e8e8e"/><text x="684.4" y="431" font-family="Liberation Sans" font-size="30" font-weight="normal" font-style="normal" fill="#676767" text-anchor="start" textLength="112" lengthAdjust="spacingAndGlyphs">Forward</text><text x="1050.1" y="431" font-family="Liberation Sans" font-size="30" font-weight="normal" font-style="normal" fill="#676767" text-anchor="start" textLength="136.8" lengthAdjust="spacingAndGlyphs">Backward</text><text x="888.5" y="500.8" font-family="Liberation Sans" font-size="19.5" font-weight="normal" font-style="normal" fill="#676767" text-anchor="start" textLength="62.5" lengthAdjust="spacingAndGlyphs">t=1000</text><text x="972.8" y="500.8" font-family="Liberation Sans" font-size="19.5" font-weight="normal" font-style="normal" fill="#676767" text-anchor="start" textLength="52.200000000000045" lengthAdjust="spacingAndGlyphs">t=800</text><text x="1052.1" y="500.8" font-family="Liberation Sans" font-size="19.5" font-weight="normal" font-style="normal" fill="#676767" text-anchor="start" textLength="51.40000000000009" lengthAdjust="spacingAndGlyphs">t=600</text><text x="1130.9" y="500.8" font-family="Liberation Sans" font-size="19.5" font-weight="normal" font-style="normal" fill="#676767" text-anchor="start" textLength="52.09999999999991" lengthAdjust="spacingAndGlyphs">t=400</text><text x="1210.2" y="500.8" font-family="Liberation Sans" font-size="19.5" font-weight="normal" font-style="normal" fill="#676767" text-anchor="start" textLength="51.899999999999864" lengthAdjust="spacingAndGlyphs">t=200</text><text x="1300.5" y="500.8" font-family="Liberation Sans" font-size="19.5" font-weight="normal" font-style="normal" fill="#676767" text-anchor="start" textLength="29.59999999999991" lengthAdjust="spacingAndGlyphs">t=0</text><g clip-path="url(#cclip)" fill="none"><path d="M1260.5,278.5 1259.0,278.6 1257.5,278.6 1256.0,278.7 1254.5,278.7 1253.0,278.8 1251.5,278.8 1250.0,278.8 1248.5,278.8 1247.0,278.8 1245.5,278.8 1244.0,278.7 1242.5,278.7 1241.0,278.7 1239.5,278.6 1238.0,278.5 1237.0,278.5 1235.5,278.4 1234.0,278.3 1232.5,278.2 1231.0,278.1 1229.5,278.0 1228.5,277.9 1227.0,277.8 1225.5,277.6 1224.2,277.5 1223.0,277.4 1221.5,277.2 1220.0,277.0 1219.0,276.9 1217.5,276.7 1216.1,276.5 1215.0,276.3 1213.5,276.1 1212.5,276.0 1211.0,275.7 1209.7,275.5 1208.5,275.3 1207.0,275.0 1206.0,274.8 1204.5,274.5 1203.5,274.3 1202.0,274.0 1201.0,273.8 1199.6,273.5 1198.5,273.3 1197.4,273.0 1196.0,272.7 1195.0,272.4 1193.5,272.1 1192.5,271.8 1191.4,271.5 1190.0,271.1 1189.0,270.9 1187.8,270.5 1186.5,270.1 1185.5,269.8 1184.4,269.5 1183.0,269.1 1182.0,268.8 1181.0,268.4 1179.7,268.0 1178.5,267.6 1177.5,267.2 1176.5,266.9 1175.4,266.5 1174.0,266.0 1173.0,265.6 1172.0,265.2 1171.0,264.8 1170.0,264.4 1168.9,264.0 1167.7,263.5 1166.5,263.0 1165.5,262.6 1164.5,262.1 1163.5,261.7 1162.5,261.2 1161.5,260.8 1160.5,260.3 1159.5,259.8 1158.5,259.3 1157.5,258.9 1156.5,258.4 1155.5,257.8 1154.5,257.3 1153.5,256.8 1152.5,256.3 1151.5,255.7 1150.5,255.2 1149.5,254.6 1148.5,254.0 1147.6,253.5 1146.7,253.0 1145.9,252.5 1145.0,252.0 1144.0,251.4 1143.0,250.8 1142.0,250.2 1141.0,249.5 1140.1,249.0 1139.4,248.5 1138.5,248.0 1137.5,247.3 1136.5,246.7 1135.5,246.0 1134.7,245.5 1133.9,245.0 1133.0,244.4 1132.0,243.8 1131.0,243.2 1130.0,242.5 1129.1,242.0 1128.3,241.5 1127.5,241.0 1126.5,240.4 1125.5,239.8 1124.5,239.3 1123.5,238.7 1122.5,238.2 1121.5,237.6 1120.5,237.1 1119.5,236.7 1118.5,236.2 1117.5,235.7 1116.5,235.3 1115.5,234.9 1114.5,234.5 1113.1,234.0 1112.0,233.6 1111.0,233.3 1110.0,233.0 1108.5,232.5 1107.5,232.3 1106.3,232.0 1105.0,231.7 1104.0,231.5 1102.5,231.2 1101.3,231.0 1100.0,230.8 1098.5,230.6 1097.5,230.5 1096.0,230.3 1094.5,230.2 1093.0,230.1 1092.0,230.0 1090.5,229.9 1089.0,229.8 1087.5,229.8 1086.0,229.8 1084.5,229.7 1083.0,229.7 1081.5,229.7 1080.0,229.8 1078.5,229.8 1077.0,229.8 1075.5,229.9 1074.0,229.9 1072.5,230.0 1071.5,230.0 1070.0,230.1 1068.5,230.2 1067.0,230.2 1065.5,230.3 1064.0,230.4 1062.5,230.5 1061.5,230.6 1060.0,230.6 1058.5,230.7 1057.0,230.8 1055.5,230.9 1054.5,231.0 1053.0,231.1 1051.5,231.2 1050.0,231.3 1048.5,231.4 1047.0,231.5 1046.0,231.6 1044.5,231.7 1043.0,231.8 1041.5,231.9 1040.0,232.0 1039.0,232.0 1037.5,232.1 1036.0,232.2 1034.5,232.3 1033.0,232.4 1031.5,232.5 1030.5,232.5 1029.0,232.6 1027.5,232.7 1026.0,232.8 1024.5,232.9 1023.0,232.9 1021.9,233.0 1020.5,233.1 1019.0,233.1 1017.5,233.2 1016.0,233.3 1014.5,233.3 1013.0,233.4 1011.5,233.5 1010.3,233.5 1009.0,233.5 1007.5,233.6 1006.0,233.6 1004.5,233.7 1003.0,233.7 1001.5,233.8 1000.0,233.8 998.5,233.8 997.0,233.9 995.5,233.9 994.0,233.9 992.5,234.0 991.0,234.0 989.5,234.0 988.2,234.0 987.0,234.0 985.5,234.0 984.0,234.0 982.5,234.0 981.0,234.0 979.5,234.0 978.0,234.0 976.5,234.0 975.4,234.0 974.0,234.0 972.5,234.0 971.0,234.0 969.5,233.9 968.0,233.9 966.5,233.9 965.0,233.8 963.5,233.8 962.0,233.8 960.5,233.7 959.0,233.7 957.5,233.6 956.0,233.6 954.5,233.5 953.5,233.5 952.0,233.4 950.5,233.4 949.0,233.3 947.5,233.2 946.0,233.1 944.5,233.1 943.2,233.0 942.0,232.9 940.5,232.9 939.0,232.8 937.5,232.7 936.0,232.6 934.9,232.5 933.5,232.4 932.0,232.3 930.5,232.2 929.0,232.1 928.0,232.0 926.5,231.9 925.0,231.8 923.5,231.6 922.0,231.5 921.0,231.4 919.5,231.3 918.0,231.1 916.6,231.0 915.5,230.9 914.0,230.7 912.5,230.6 911.5,230.5 910.0,230.3 908.5,230.2 907.1,230.0 906.0,229.9 904.5,229.7 903.0,229.5 902.0,229.4 900.5,229.2 899.0,229.0 898.0,228.9 896.5,228.7 895.2,228.5 894.0,228.3 892.5,228.1 891.5,228.0 890.0,227.7 888.5,227.5 887.5,227.4 886.0,227.1 885.0,227.0 883.5,226.7 882.2,226.5 881.0,226.3 879.5,226.0 878.5,225.9 877.0,225.6 876.0,225.4 874.5,225.1 873.5,224.9 872.0,224.6 871.0,224.4 869.5,224.1 868.5,223.9 867.0,223.6 866.0,223.4 864.5,223.1 863.5,222.8 862.0,222.5 861.0,222.3 859.8,222.0 858.5,221.7 857.5,221.4 856.0,221.0 855.0,220.8 853.9,220.5 852.5,220.1 851.5,219.9 850.2,219.5 849.0,219.1 848.0,218.9 846.8,218.5 845.5,218.1 844.5,217.8 843.5,217.5 842.1,217.0 841.0,216.6 840.0,216.3 839.0,216.0 837.7,215.5 836.5,215.0 835.5,214.7 834.5,214.3 833.5,213.9 832.5,213.5 831.4,213.0 830.3,212.5 829.1,212.0 828.1,211.5 827.0,211.0 826.0,210.5 825.1,210.0 824.1,209.5 823.2,209.0 822.3,208.5 821.5,208.0 820.5,207.4 819.5,206.7 818.5,206.0 817.8,205.5 817.0,204.9 816.0,204.1 815.3,203.5 814.5,202.7 813.8,202.0 813.0,201.1 812.5,200.5 811.8,199.5 811.2,198.5 810.6,197.5 810.2,196.5 809.9,195.5 809.6,194.0 809.6,192.5 809.8,191.0 810.0,190.0 810.5,188.7 811.0,187.7 811.5,186.8 812.1,186.0 812.8,185.0 813.5,184.2 814.2,183.5 815.0,182.7 815.8,182.0 816.5,181.4 817.5,180.6 818.4,180.0 819.1,179.5 820.0,178.9 821.0,178.2 822.0,177.6 823.0,177.0 824.0,176.5 824.9,176.0 825.9,175.5 826.9,175.0 827.9,174.5 829.0,174.0 830.0,173.5 831.0,173.1 832.0,172.7 833.0,172.3 834.0,171.8 835.0,171.5 836.2,171.0 837.5,170.5 838.5,170.1 839.5,169.8 840.5,169.4 841.8,169.0 843.0,168.6 844.0,168.3 845.0,168.0 846.5,167.5 847.5,167.2 848.5,166.9 850.0,166.5 851.0,166.2 852.0,165.9 853.5,165.5 854.5,165.3 855.5,165.0 857.0,164.6 858.0,164.4 859.5,164.0 860.5,163.8 861.6,163.5 863.0,163.2 864.0,163.0 865.5,162.6 866.5,162.4 868.0,162.1 869.0,161.9 870.5,161.6 871.5,161.4 873.0,161.1 874.0,160.9 875.5,160.6 876.5,160.4 878.0,160.1 879.0,160.0 880.5,159.7 881.7,159.5 883.0,159.3 884.5,159.0 885.5,158.9 887.0,158.6 888.0,158.5 889.5,158.2 891.0,158.0 892.0,157.9 893.5,157.7 894.7,157.5 896.0,157.3 897.5,157.1 898.5,157.0 900.0,156.8 901.5,156.6 902.5,156.5 904.0,156.3 905.5,156.1 906.5,156.0 908.0,155.8 909.5,155.7 910.9,155.5 912.0,155.4 913.5,155.2 915.0,155.1 916.0,155.0 917.5,154.8 919.0,154.7 920.5,154.6 921.5,154.5 923.0,154.3 924.5,154.2 926.0,154.1 927.0,154.0 928.5,153.9 930.0,153.8 931.5,153.7 933.0,153.6 934.0,153.5 935.5,153.4 937.0,153.3 938.5,153.2 940.0,153.1 941.5,153.0 942.5,153.0 944.0,152.9 945.5,152.8 947.0,152.7 948.5,152.7 950.0,152.6 951.5,152.5 952.5,152.5 954.0,152.4 955.5,152.4 957.0,152.3 958.5,152.3 960.0,152.2 961.5,152.2 963.0,152.1 964.5,152.1 966.0,152.1 967.5,152.0 969.0,152.0 970.0,152.0 971.5,152.0 973.0,151.9 974.5,151.9 976.0,151.9 977.5,151.9 979.0,151.9 980.5,151.9 982.0,151.9 983.5,151.9 985.0,151.9 986.5,151.9 988.0,151.9 989.5,151.9 991.0,151.9 992.5,152.0 994.0,152.0 995.0,152.0 996.5,152.0 998.0,152.1 999.5,152.1 1001.0,152.1 1002.5,152.2 1004.0,152.2 1005.5,152.3 1007.0,152.3 1008.5,152.4 1010.0,152.4 1011.5,152.5 1012.5,152.5 1014.0,152.6 1015.5,152.6 1017.0,152.7 1018.5,152.8 1020.0,152.8 1021.5,152.9 1023.0,153.0 1024.0,153.0 1025.5,153.1 1027.0,153.2 1028.5,153.3 1030.0,153.4 1031.5,153.4 1032.5,153.5 1034.0,153.6 1035.5,153.7 1037.0,153.8 1038.5,153.9 1040.0,154.0 1041.0,154.0 1042.5,154.1 1044.0,154.2 1045.5,154.3 1047.0,154.4 1048.0,154.5 1049.5,154.6 1051.0,154.7 1052.5,154.8 1054.0,154.9 1055.1,155.0 1056.5,155.1 1058.0,155.2 1059.5,155.3 1061.0,155.4 1062.5,155.5 1063.5,155.5 1065.0,155.6 1066.5,155.7 1068.0,155.8 1069.5,155.9 1071.0,156.0 1072.0,156.0 1073.5,156.1 1075.0,156.1 1076.5,156.2 1078.0,156.2 1079.5,156.3 1081.0,156.3 1082.5,156.3 1084.0,156.3 1085.5,156.3 1087.0,156.3 1088.5,156.3 1090.0,156.2 1091.5,156.2 1093.0,156.1 1094.5,156.0 1095.5,155.9 1097.0,155.8 1098.5,155.6 1099.6,155.5 1101.0,155.3 1102.5,155.1 1103.5,154.9 1105.0,154.6 1106.0,154.4 1107.5,154.1 1108.5,153.9 1109.9,153.5 1111.0,153.2 1112.0,152.9 1113.3,152.5 1114.5,152.1 1115.5,151.7 1116.5,151.3 1117.5,151.0 1118.6,150.5 1119.7,150.0 1120.8,149.5 1121.9,149.0 1122.9,148.5 1123.9,148.0 1124.9,147.5 1125.8,147.0 1126.7,146.5 1127.6,146.0 1128.5,145.5 1129.5,144.9 1130.5,144.3 1131.5,143.7 1132.5,143.1 1133.5,142.5 1134.3,142.0 1135.1,141.5 1136.0,141.0 1137.0,140.3 1138.0,139.7 1139.0,139.1 1140.0,138.5 1140.8,138.0 1141.6,137.5 1142.5,137.0 1143.5,136.4 1144.5,135.8 1145.5,135.2 1146.5,134.6 1147.5,134.0 1148.4,133.5 1149.3,133.0 1150.2,132.5 1151.1,132.0 1152.0,131.5 1153.0,131.0 1154.0,130.5 1155.0,129.9 1156.0,129.4 1157.0,128.9 1158.0,128.4 1159.0,128.0 1160.0,127.5 1161.0,127.0 1162.1,126.5 1163.2,126.0 1164.3,125.5 1165.5,125.0 1166.5,124.6 1167.5,124.1 1168.5,123.7 1169.5,123.3 1170.5,122.9 1171.6,122.5 1172.9,122.0 1174.0,121.6 1175.0,121.2 1176.0,120.8 1177.0,120.5 1178.4,120.0 1179.5,119.6 1180.5,119.3 1181.5,119.0 1183.0,118.5 1184.0,118.2 1185.0,117.9 1186.3,117.5 1187.5,117.1 1188.5,116.9 1189.8,116.5 1191.0,116.2 1192.0,115.9 1193.5,115.5 1194.5,115.3 1195.6,115.0 1197.0,114.7 1198.0,114.4 1199.5,114.1 1200.5,113.9 1202.0,113.5 1203.0,113.3 1204.5,113.0 1205.5,112.8 1207.0,112.6 1208.0,112.4 1209.5,112.1 1210.5,111.9 1212.0,111.7 1213.2,111.5 1214.5,111.3 1216.0,111.1 1217.0,110.9 1218.5,110.7 1220.0,110.5 1221.0,110.4 1222.5,110.2 1224.0,110.1 1225.0,110.0 1226.5,109.8 1228.0,109.7 1229.5,109.6 1230.5,109.5 1232.0,109.4 1233.5,109.3 1235.0,109.2 1236.5,109.1 1238.0,109.0 1239.0,109.0 1240.5,108.9 1242.0,108.9 1243.5,108.8 1245.0,108.8 1246.5,108.8 1248.0,108.8 1249.5,108.8 1251.0,108.8 1252.5,108.8 1254.0,108.8 1255.5,108.9 1257.0,108.9 1258.5,109.0 1259.5,109.0 1261.0,109.1 1262.5,109.2 1264.0,109.3 1265.5,109.4 1267.0,109.5 1268.0,109.6 1269.5,109.7 1271.0,109.8 1272.5,110.0 1273.5,110.1 1275.0,110.2 1276.5,110.4 1277.5,110.5 1279.0,110.7 1280.5,110.9 1281.5,111.1 1283.0,111.3 1284.4,111.5 1285.5,111.7 1287.0,111.9 1288.0,112.1 1289.5,112.4 1290.5,112.5 1292.0,112.8 1293.0,113.0 1294.5,113.3 1295.5,113.5 1297.0,113.8 1298.0,114.1 1299.5,114.4 1300.5,114.6 1302.0,115.0 1303.0,115.2 1304.0,115.5 1305.5,115.9 1306.5,116.1 1307.8,116.5 1309.0,116.8 1310.0,117.1 1311.3,117.5 1312.5,117.9 1313.5,118.2 1314.6,118.5 1316.0,118.9 1317.0,119.3 1318.0,119.6 1319.2,120.0 1320.5,120.5 1321.5,120.8 1322.5,121.2 1323.5,121.6 1324.7,122.0 1326.0,122.5 1327.0,122.9 1328.0,123.3 1329.0,123.7 1330.0,124.1 1331.0,124.6 1332.0,125.0 1333.2,125.5 1334.3,126.0 1335.4,126.5 1336.4,127.0 1337.5,127.5 1338.5,128.0 1339.5,128.5 1340.5,129.0 1341.5,129.5 1342.4,130.0 1343.4,130.5 1344.3,131.0 1345.2,131.5 1346.1,132.0 1347.0,132.5 1348.0,133.1 1349.0,133.7 1350.0,134.3 1351.0,134.9 1351.9,135.5 1352.7,136.0 1353.5,136.5 1354.5,137.2 1355.5,137.9 1356.4,138.5 1357.1,139.0 1358.0,139.6 1359.0,140.4 1359.8,141.0 1360.5,141.5 1361.5,142.3 1362.4,143.0 1363.0,143.5 1364.0,144.3 1364.8,145.0 1365.5,145.6 1366.5,146.5 1367.1,147.0 1368.0,147.9 1368.7,148.5 1369.5,149.3 1370.2,150.0 1371.0,150.8 1371.7,151.5 1372.5,152.4 1373.1,153.0 1374.0,154.0 1374.5,154.6 1375.3,155.5 1376.0,156.4 1376.5,157.0 1377.3,158.0 1378.0,159.0 1378.5,159.6 1379.1,160.5 1379.8,161.5 1380.5,162.5 1381.0,163.3 1381.5,164.1 1382.1,165.0 1382.7,166.0 1383.2,167.0 1383.8,168.0 1384.3,169.0 1384.8,170.0 1385.2,171.0 1385.7,172.0 1386.1,173.0 1386.5,174.0 1387.0,175.2 1387.5,176.5 1387.8,177.5 1388.1,178.5 1388.5,179.8 1388.8,181.0 1389.1,182.0 1389.4,183.5 1389.6,184.5 1389.8,186.0 1390.0,187.2 1390.2,188.5 1390.3,190.0 1390.4,191.5 1390.4,193.0 1390.4,194.5 1390.4,196.0 1390.3,197.5 1390.2,199.0 1390.0,200.4 1389.8,201.5 1389.6,203.0 1389.4,204.0 1389.1,205.5 1388.8,206.5 1388.5,207.8 1388.1,209.0 1387.8,210.0 1387.5,211.0 1387.0,212.4 1386.6,213.5 1386.2,214.5 1385.7,215.5 1385.3,216.5 1384.8,217.5 1384.3,218.5 1383.8,219.5 1383.3,220.5 1382.7,221.5 1382.1,222.5 1381.5,223.5 1381.0,224.3 1380.5,225.0 1379.9,226.0 1379.2,227.0 1378.5,227.9 1378.0,228.6 1377.3,229.5 1376.5,230.5 1376.0,231.2 1375.3,232.0 1374.5,232.9 1374.0,233.5 1373.1,234.5 1372.5,235.2 1371.7,236.0 1371.0,236.8 1370.3,237.5 1369.5,238.3 1368.7,239.0 1368.0,239.7 1367.1,240.5 1366.5,241.1 1365.5,242.0 1364.9,242.5 1364.0,243.2 1363.1,244.0 1362.5,244.5 1361.5,245.3 1360.6,246.0 1359.9,246.5 1359.0,247.2 1358.0,247.9 1357.2,248.5 1356.5,249.0 1355.5,249.7 1354.5,250.4 1353.5,251.0 1352.8,251.5 1352.0,252.0 1351.0,252.6 1350.0,253.3 1349.0,253.9 1348.0,254.5 1347.1,255.0 1346.2,255.5 1345.3,256.0 1344.4,256.5 1343.5,257.0 1342.5,257.5 1341.5,258.1 1340.5,258.6 1339.5,259.1 1338.5,259.6 1337.5,260.1 1336.5,260.5 1335.5,261.0 1334.4,261.5 1333.3,262.0 1332.2,262.5 1331.0,263.0 1330.0,263.4 1329.0,263.9 1328.0,264.3 1327.0,264.7 1326.0,265.1 1324.9,265.5 1323.5,266.0 1322.5,266.4 1321.5,266.7 1320.5,267.1 1319.3,267.5 1318.0,268.0 1317.0,268.3 1316.0,268.6 1314.8,269.0 1313.5,269.4 1312.5,269.7 1311.5,270.0 1310.0,270.4 1309.0,270.7 1308.0,271.0 1306.5,271.4 1305.5,271.7 1304.3,272.0 1303.0,272.3 1302.0,272.6 1300.5,272.9 1299.5,273.2 1298.0,273.5 1297.0,273.7 1295.7,274.0 1294.5,274.3 1293.3,274.5 1292.0,274.7 1290.7,275.0 1289.5,275.2 1288.0,275.5 1287.0,275.6 1285.5,275.9 1284.5,276.1 1283.0,276.3 1281.5,276.5 1280.5,276.6 1279.0,276.8 1277.8,277.0 1276.5,277.2 1275.0,277.3 1273.5,277.5 1272.5,277.6 1271.0,277.7 1269.5,277.9 1268.1,278.0 1267.0,278.1 1265.5,278.2 1264.0,278.3 1262.5,278.4 1261.0,278.5 1260.5,278.5" stroke="#1c1c1c" stroke-width="1.9"/><path d="M1259.0,265.0 1257.5,265.1 1256.0,265.2 1254.5,265.2 1253.0,265.2 1251.5,265.3 1250.0,265.3 1248.5,265.3 1247.0,265.3 1245.5,265.3 1244.0,265.2 1242.5,265.2 1241.0,265.1 1239.5,265.1 1238.2,265.0 1237.0,264.9 1235.5,264.8 1234.0,264.7 1232.5,264.6 1231.2,264.5 1230.0,264.4 1228.5,264.2 1227.0,264.1 1226.0,264.0 1224.5,263.8 1223.0,263.6 1222.0,263.4 1220.5,263.2 1219.0,263.0 1218.0,262.9 1216.5,262.6 1215.5,262.4 1214.0,262.2 1213.0,262.0 1211.5,261.7 1210.5,261.5 1209.0,261.2 1208.0,261.0 1206.5,260.6 1205.5,260.4 1204.0,260.0 1203.0,259.8 1201.8,259.5 1200.5,259.2 1199.5,258.9 1198.1,258.5 1197.0,258.2 1196.0,257.9 1194.7,257.5 1193.5,257.1 1192.5,256.8 1191.5,256.5 1190.0,256.0 1189.0,255.6 1188.0,255.3 1187.0,254.9 1185.8,254.5 1184.5,254.0 1183.5,253.6 1182.5,253.2 1181.5,252.8 1180.5,252.4 1179.5,252.0 1178.3,251.5 1177.2,251.0 1176.0,250.5 1175.0,250.0 1174.0,249.6 1173.0,249.1 1172.0,248.6 1171.0,248.1 1170.0,247.6 1169.0,247.1 1168.0,246.6 1167.0,246.0 1166.0,245.5 1165.1,245.0 1164.2,244.5 1163.3,244.0 1162.4,243.5 1161.5,243.0 1160.5,242.4 1159.5,241.8 1158.5,241.2 1157.5,240.6 1156.6,240.0 1155.8,239.5 1155.0,239.0 1154.0,238.4 1153.0,237.7 1152.0,237.1 1151.1,236.5 1150.3,236.0 1149.5,235.5 1148.5,234.8 1147.5,234.2 1146.5,233.5 1145.7,233.0 1144.9,232.5 1144.0,231.9 1143.0,231.3 1142.0,230.7 1141.0,230.1 1140.0,229.5 1139.2,229.0 1138.3,228.5 1137.4,228.0 1136.5,227.5 1135.5,227.0 1134.5,226.5 1133.5,226.0 1132.5,225.5 1131.4,225.0 1130.3,224.5 1129.1,224.0 1128.0,223.6 1127.0,223.2 1126.0,222.8 1125.0,222.5 1123.5,222.0 1122.5,221.7 1121.5,221.4 1120.0,221.1 1119.0,220.8 1117.5,220.5 1116.5,220.3 1115.0,220.1 1114.0,219.9 1112.5,219.7 1111.0,219.6 1110.0,219.5 1108.5,219.4 1107.0,219.3 1105.5,219.2 1104.0,219.2 1102.5,219.1 1101.0,219.1 1099.5,219.2 1098.0,219.2 1096.5,219.2 1095.0,219.3 1093.5,219.4 1092.0,219.5 1091.0,219.5 1089.5,219.6 1088.0,219.8 1086.5,219.9 1085.0,220.0 1084.0,220.1 1082.5,220.2 1081.0,220.4 1079.8,220.5 1078.5,220.6 1077.0,220.8 1075.5,220.9 1074.5,221.1 1073.0,221.2 1071.5,221.4 1070.5,221.5 1069.0,221.7 1067.5,221.8 1066.0,222.0 1065.0,222.1 1063.5,222.3 1062.0,222.4 1061.0,222.6 1059.5,222.7 1058.0,222.9 1056.9,223.0 1055.5,223.2 1054.0,223.3 1052.5,223.5 1051.5,223.6 1050.0,223.7 1048.5,223.9 1047.3,224.0 1046.0,224.1 1044.5,224.3 1043.0,224.4 1042.0,224.5 1040.5,224.6 1039.0,224.8 1037.5,224.9 1036.4,225.0 1035.0,225.1 1033.5,225.2 1032.0,225.4 1030.5,225.5 1029.5,225.6 1028.0,225.7 1026.5,225.8 1025.0,225.9 1023.5,226.0 1022.5,226.1 1021.0,226.1 1019.5,226.2 1018.0,226.3 1016.5,226.4 1015.0,226.5 1014.0,226.5 1012.5,226.6 1011.0,226.7 1009.5,226.8 1008.0,226.8 1006.5,226.9 1005.0,227.0 1003.6,227.0 1002.5,227.0 1001.0,227.1 999.5,227.1 998.0,227.2 996.5,227.2 995.0,227.2 993.5,227.3 992.0,227.3 990.5,227.3 989.0,227.4 987.5,227.4 986.0,227.4 984.5,227.4 983.0,227.4 981.5,227.4 980.0,227.4 978.5,227.4 977.0,227.4 975.5,227.4 974.0,227.4 972.5,227.3 971.0,227.3 969.5,227.3 968.0,227.2 966.5,227.2 965.0,227.2 963.5,227.1 962.0,227.1 960.5,227.0 959.5,227.0 958.0,226.9 956.5,226.9 955.0,226.8 953.5,226.7 952.0,226.7 950.5,226.6 949.0,226.5 948.0,226.5 946.5,226.4 945.0,226.3 943.5,226.2 942.0,226.1 940.7,226.0 939.5,225.9 938.0,225.8 936.5,225.7 935.0,225.6 934.0,225.5 932.5,225.4 931.0,225.2 929.5,225.1 928.5,225.0 927.0,224.9 925.5,224.7 924.0,224.6 923.0,224.5 921.5,224.3 920.0,224.1 918.9,224.0 917.5,223.8 916.0,223.7 914.7,223.5 913.5,223.4 912.0,223.2 910.8,223.0 909.5,222.8 908.0,222.6 907.0,222.5 905.5,222.3 904.0,222.0 903.0,221.9 901.5,221.6 900.5,221.5 899.0,221.2 897.6,221.0 896.5,220.8 895.0,220.5 894.0,220.4 892.5,220.1 891.5,219.9 890.0,219.6 889.0,219.4 887.5,219.1 886.5,218.9 885.0,218.6 884.0,218.4 882.5,218.0 881.5,217.8 880.2,217.5 879.0,217.2 878.0,217.0 876.5,216.6 875.5,216.3 874.2,216.0 873.0,215.7 872.0,215.4 870.6,215.0 869.5,214.7 868.5,214.4 867.2,214.0 866.0,213.6 865.0,213.3 864.0,213.0 862.7,212.5 861.5,212.1 860.5,211.7 859.5,211.4 858.5,211.0 857.3,210.5 856.1,210.0 855.0,209.5 854.0,209.1 853.0,208.6 852.0,208.1 851.0,207.6 850.0,207.1 849.0,206.6 848.0,206.0 847.1,205.5 846.3,205.0 845.5,204.4 844.5,203.7 843.5,203.0 842.9,202.5 842.0,201.7 841.2,201.0 840.5,200.2 839.9,199.5 839.1,198.5 838.5,197.5 838.0,196.5 837.7,195.5 837.4,194.5 837.3,193.0 837.4,191.5 837.6,190.5 838.0,189.5 838.5,188.5 839.1,187.5 839.8,186.5 840.5,185.7 841.2,185.0 842.0,184.2 842.8,183.5 843.5,182.9 844.5,182.2 845.5,181.5 846.2,181.0 847.0,180.5 848.0,179.9 849.0,179.3 850.0,178.8 851.0,178.3 852.0,177.8 853.0,177.3 854.0,176.8 855.0,176.4 856.0,176.0 857.1,175.5 858.4,175.0 859.5,174.6 860.5,174.2 861.5,173.8 862.5,173.5 863.9,173.0 865.0,172.6 866.0,172.3 867.0,172.0 868.5,171.5 869.5,171.2 870.5,170.9 872.0,170.5 873.0,170.2 874.0,170.0 875.5,169.6 876.5,169.3 877.8,169.0 879.0,168.7 880.0,168.5 881.5,168.1 882.5,167.9 884.0,167.6 885.0,167.3 886.5,167.0 887.5,166.8 889.0,166.5 890.0,166.3 891.5,166.0 892.5,165.8 894.0,165.6 895.0,165.4 896.5,165.1 897.5,164.9 899.0,164.7 900.2,164.5 901.5,164.3 903.0,164.0 904.0,163.9 905.5,163.7 906.7,163.5 908.0,163.3 909.5,163.1 910.5,163.0 912.0,162.8 913.5,162.6 914.5,162.4 916.0,162.3 917.5,162.1 918.5,162.0 920.0,161.8 921.5,161.6 922.7,161.5 924.0,161.4 925.5,161.2 927.0,161.1 928.0,161.0 929.5,160.8 931.0,160.7 932.5,160.6 933.5,160.5 935.0,160.3 936.5,160.2 938.0,160.1 939.5,160.0 940.5,159.9 942.0,159.8 943.5,159.7 945.0,159.6 946.5,159.5 947.5,159.5 949.0,159.4 950.5,159.3 952.0,159.2 953.5,159.2 955.0,159.1 956.5,159.0 957.5,159.0 959.0,158.9 960.5,158.9 962.0,158.8 963.5,158.8 965.0,158.7 966.5,158.7 968.0,158.7 969.5,158.6 971.0,158.6 972.5,158.6 974.0,158.6 975.5,158.6 977.0,158.5 978.5,158.5 980.0,158.5 981.5,158.5 983.0,158.5 984.5,158.5 986.0,158.5 987.5,158.6 989.0,158.6 990.5,158.6 992.0,158.6 993.5,158.6 995.0,158.7 996.5,158.7 998.0,158.7 999.5,158.8 1001.0,158.8 1002.5,158.9 1004.0,158.9 1005.5,159.0 1006.5,159.0 1008.0,159.1 1009.5,159.2 1011.0,159.2 1012.5,159.3 1014.0,159.4 1015.5,159.5 1016.5,159.5 1018.0,159.6 1019.5,159.7 1021.0,159.8 1022.5,159.9 1024.0,160.0 1025.0,160.0 1026.5,160.1 1028.0,160.3 1029.5,160.4 1031.0,160.5 1032.0,160.6 1033.5,160.7 1035.0,160.8 1036.5,160.9 1037.5,161.0 1039.0,161.2 1040.5,161.3 1042.0,161.4 1043.0,161.5 1044.5,161.7 1046.0,161.8 1047.5,162.0 1048.5,162.1 1050.0,162.2 1051.5,162.4 1052.8,162.5 1054.0,162.6 1055.5,162.8 1057.0,163.0 1058.0,163.1 1059.5,163.2 1061.0,163.4 1062.0,163.5 1063.5,163.7 1065.0,163.8 1066.3,164.0 1067.5,164.1 1069.0,164.3 1070.5,164.5 1071.5,164.6 1073.0,164.8 1074.5,164.9 1075.5,165.0 1077.0,165.2 1078.5,165.4 1079.9,165.5 1081.0,165.6 1082.5,165.8 1084.0,165.9 1085.0,166.0 1086.5,166.1 1088.0,166.3 1089.5,166.4 1090.9,166.5 1092.0,166.6 1093.5,166.7 1095.0,166.8 1096.5,166.8 1098.0,166.9 1099.5,166.9 1101.0,167.0 1102.5,167.0 1104.0,167.0 1105.5,166.9 1107.0,166.9 1108.5,166.8 1110.0,166.7 1111.5,166.6 1112.5,166.5 1114.0,166.3 1115.5,166.1 1116.5,165.9 1118.0,165.7 1119.0,165.5 1120.5,165.2 1121.5,164.9 1123.0,164.6 1124.0,164.3 1125.0,164.0 1126.5,163.5 1127.5,163.2 1128.5,162.8 1129.5,162.4 1130.6,162.0 1131.8,161.5 1132.9,161.0 1134.0,160.5 1135.0,160.0 1136.0,159.6 1137.0,159.0 1138.0,158.5 1139.0,158.0 1139.9,157.5 1140.8,157.0 1141.7,156.5 1142.5,156.0 1143.5,155.4 1144.5,154.8 1145.5,154.2 1146.5,153.6 1147.5,153.0 1148.3,152.5 1149.1,152.0 1150.0,151.5 1151.0,150.8 1152.0,150.2 1153.0,149.6 1154.0,149.0 1154.8,148.5 1155.6,148.0 1156.5,147.4 1157.5,146.8 1158.5,146.2 1159.5,145.7 1160.5,145.1 1161.5,144.5 1162.4,144.0 1163.2,143.5 1164.1,143.0 1165.1,142.5 1166.0,142.0 1167.0,141.5 1168.0,140.9 1169.0,140.4 1170.0,139.9 1171.0,139.4 1172.0,138.9 1173.0,138.4 1174.0,138.0 1175.0,137.5 1176.1,137.0 1177.2,136.5 1178.4,136.0 1179.5,135.5 1180.5,135.1 1181.5,134.7 1182.5,134.3 1183.5,133.9 1184.6,133.5 1185.9,133.0 1187.0,132.6 1188.0,132.3 1189.0,131.9 1190.2,131.5 1191.5,131.1 1192.5,130.7 1193.5,130.4 1194.9,130.0 1196.0,129.7 1197.0,129.4 1198.3,129.0 1199.5,128.7 1200.5,128.4 1202.0,128.0 1203.0,127.8 1204.1,127.5 1205.5,127.2 1206.5,126.9 1208.0,126.6 1209.0,126.4 1210.5,126.1 1211.5,125.9 1213.0,125.6 1214.0,125.4 1215.5,125.1 1216.5,125.0 1218.0,124.7 1219.3,124.5 1220.5,124.3 1222.0,124.1 1223.0,124.0 1224.5,123.8 1226.0,123.6 1227.0,123.5 1228.5,123.3 1230.0,123.2 1231.5,123.0 1232.5,123.0 1234.0,122.8 1235.5,122.7 1237.0,122.6 1238.5,122.5 1239.5,122.5 1241.0,122.4 1242.5,122.4 1244.0,122.3 1245.5,122.3 1247.0,122.3 1248.5,122.3 1250.0,122.3 1251.5,122.3 1253.0,122.3 1254.5,122.4 1256.0,122.4 1257.5,122.5 1258.5,122.5 1260.0,122.6 1261.5,122.7 1263.0,122.8 1264.5,122.9 1265.6,123.0 1267.0,123.1 1268.5,123.3 1270.0,123.4 1271.0,123.5 1272.5,123.7 1274.0,123.9 1275.0,124.0 1276.5,124.2 1278.0,124.5 1279.0,124.6 1280.5,124.9 1281.5,125.0 1283.0,125.3 1284.1,125.5 1285.5,125.8 1286.7,126.0 1288.0,126.3 1289.1,126.5 1290.5,126.8 1291.5,127.0 1293.0,127.4 1294.0,127.6 1295.5,128.0 1296.5,128.3 1297.5,128.5 1299.0,128.9 1300.0,129.2 1301.0,129.5 1302.5,130.0 1303.5,130.3 1304.5,130.6 1305.8,131.0 1307.0,131.4 1308.0,131.7 1309.0,132.1 1310.2,132.5 1311.5,133.0 1312.5,133.4 1313.5,133.8 1314.5,134.1 1315.5,134.5 1316.6,135.0 1317.8,135.5 1319.0,136.0 1320.0,136.5 1321.0,136.9 1322.0,137.4 1323.0,137.9 1324.0,138.3 1325.0,138.8 1326.0,139.3 1327.0,139.9 1328.0,140.4 1329.0,140.9 1330.0,141.5 1330.9,142.0 1331.8,142.5 1332.6,143.0 1333.5,143.5 1334.5,144.1 1335.5,144.8 1336.5,145.4 1337.4,146.0 1338.1,146.5 1339.0,147.1 1340.0,147.8 1341.0,148.5 1341.7,149.0 1342.5,149.6 1343.5,150.4 1344.2,151.0 1345.0,151.6 1346.0,152.5 1346.6,153.0 1347.5,153.8 1348.3,154.5 1349.0,155.1 1349.9,156.0 1350.5,156.6 1351.4,157.5 1352.0,158.1 1352.9,159.0 1353.5,159.7 1354.2,160.5 1355.0,161.4 1355.5,162.0 1356.3,163.0 1357.0,163.9 1357.5,164.5 1358.2,165.5 1358.9,166.5 1359.5,167.4 1360.0,168.2 1360.5,169.0 1361.1,170.0 1361.7,171.0 1362.2,172.0 1362.8,173.0 1363.3,174.0 1363.7,175.0 1364.2,176.0 1364.6,177.0 1365.0,178.1 1365.5,179.5 1365.8,180.5 1366.1,181.5 1366.5,182.8 1366.8,184.0 1367.0,185.0 1367.3,186.5 1367.5,187.9 1367.6,189.0 1367.8,190.5 1367.9,192.0 1367.9,193.5 1367.9,195.0 1367.8,196.5 1367.7,198.0 1367.5,199.5 1367.4,200.5 1367.1,202.0 1366.9,203.0 1366.6,204.5 1366.3,205.5 1366.0,206.5 1365.5,208.0 1365.2,209.0 1364.8,210.0 1364.4,211.0 1364.0,212.0 1363.5,213.1 1363.0,214.1 1362.5,215.1 1362.0,216.0 1361.5,217.0 1360.9,218.0 1360.3,219.0 1359.6,220.0 1359.0,220.9 1358.5,221.6 1357.9,222.5 1357.1,223.5 1356.5,224.3 1356.0,225.0 1355.1,226.0 1354.5,226.7 1353.8,227.5 1353.0,228.4 1352.5,229.0 1351.5,230.0 1351.0,230.5 1350.0,231.5 1349.5,232.0 1348.5,232.9 1347.8,233.5 1347.0,234.2 1346.1,235.0 1345.5,235.5 1344.5,236.3 1343.7,237.0 1343.0,237.5 1342.0,238.3 1341.1,239.0 1340.4,239.5 1339.5,240.1 1338.5,240.8 1337.5,241.5 1336.7,242.0 1336.0,242.5 1335.0,243.1 1334.0,243.7 1333.0,244.4 1332.0,244.9 1331.0,245.5 1330.2,246.0 1329.3,246.5 1328.3,247.0 1327.4,247.5 1326.4,248.0 1325.5,248.5 1324.5,249.0 1323.4,249.5 1322.4,250.0 1321.3,250.5 1320.2,251.0 1319.1,251.5 1318.0,252.0 1317.0,252.4 1316.0,252.8 1315.0,253.2 1314.0,253.6 1313.0,254.0 1311.7,254.5 1310.5,254.9 1309.5,255.3 1308.5,255.7 1307.5,256.0 1306.0,256.5 1305.0,256.8 1304.0,257.1 1302.8,257.5 1301.5,257.9 1300.5,258.2 1299.4,258.5 1298.0,258.9 1297.0,259.2 1295.7,259.5 1294.5,259.8 1293.5,260.1 1292.0,260.4 1291.0,260.6 1289.5,261.0 1288.5,261.2 1287.0,261.5 1286.0,261.7 1284.5,262.0 1283.5,262.2 1282.0,262.4 1281.0,262.6 1279.5,262.9 1278.5,263.0 1277.0,263.2 1275.5,263.5 1274.5,263.6 1273.0,263.8 1271.5,264.0 1270.5,264.1 1269.0,264.2 1267.5,264.4 1266.4,264.5 1265.0,264.6 1263.5,264.7 1262.0,264.8 1260.5,264.9 1259.3,265.0 1259.0,265.0" stroke="#252525" stroke-width="1.9"/><path d="M1258.5,255.5 1257.0,255.6 1255.5,255.6 1254.0,255.7 1252.5,255.7 1251.0,255.8 1249.5,255.8 1248.0,255.8 1246.5,255.8 1245.0,255.7 1243.5,255.7 1242.0,255.6 1240.5,255.6 1239.1,255.5 1238.0,255.4 1236.5,255.3 1235.0,255.2 1233.5,255.1 1232.5,255.0 1231.0,254.9 1229.5,254.7 1228.0,254.5 1227.0,254.4 1225.5,254.2 1224.2,254.0 1223.0,253.8 1221.5,253.6 1220.5,253.4 1219.0,253.1 1218.0,253.0 1216.5,252.7 1215.5,252.5 1214.0,252.2 1213.0,251.9 1211.5,251.6 1210.5,251.4 1209.0,251.0 1208.0,250.8 1207.0,250.5 1205.5,250.1 1204.5,249.8 1203.4,249.5 1202.0,249.1 1201.0,248.8 1200.0,248.5 1198.6,248.0 1197.5,247.6 1196.5,247.3 1195.5,247.0 1194.3,246.5 1193.0,246.0 1192.0,245.7 1191.0,245.3 1190.0,244.9 1189.0,244.5 1187.9,244.0 1186.8,243.5 1185.6,243.0 1184.5,242.5 1183.5,242.0 1182.5,241.6 1181.5,241.1 1180.5,240.6 1179.5,240.1 1178.5,239.6 1177.5,239.0 1176.5,238.5 1175.6,238.0 1174.7,237.5 1173.8,237.0 1172.9,236.5 1172.0,236.0 1171.0,235.4 1170.0,234.8 1169.0,234.2 1168.0,233.5 1167.2,233.0 1166.4,232.5 1165.5,231.9 1164.5,231.3 1163.5,230.6 1162.6,230.0 1161.8,229.5 1161.0,229.0 1160.0,228.3 1159.0,227.6 1158.1,227.0 1157.4,226.5 1156.5,225.9 1155.5,225.2 1154.5,224.5 1153.7,224.0 1153.0,223.5 1152.0,222.9 1151.0,222.2 1150.0,221.5 1149.2,221.0 1148.4,220.5 1147.5,219.9 1146.5,219.3 1145.5,218.7 1144.5,218.1 1143.5,217.6 1142.5,217.0 1141.6,216.5 1140.7,216.0 1139.7,215.5 1138.7,215.0 1137.6,214.5 1136.5,214.0 1135.5,213.6 1134.5,213.1 1133.5,212.7 1132.5,212.4 1131.4,212.0 1130.0,211.5 1129.0,211.2 1128.0,211.0 1126.5,210.6 1125.5,210.4 1124.0,210.1 1123.0,209.9 1121.5,209.7 1120.0,209.5 1119.0,209.4 1117.5,209.3 1116.0,209.2 1114.5,209.2 1113.0,209.2 1111.5,209.2 1110.0,209.3 1108.5,209.4 1107.0,209.5 1106.0,209.6 1104.5,209.7 1103.0,209.9 1101.9,210.0 1100.5,210.2 1099.0,210.4 1098.0,210.5 1096.5,210.7 1095.0,211.0 1094.0,211.1 1092.5,211.4 1091.5,211.5 1090.0,211.8 1088.7,212.0 1087.5,212.2 1086.0,212.5 1085.0,212.6 1083.5,212.9 1082.5,213.1 1081.0,213.3 1080.0,213.5 1078.5,213.8 1077.2,214.0 1076.0,214.2 1074.5,214.5 1073.5,214.6 1072.0,214.9 1071.0,215.1 1069.5,215.3 1068.4,215.5 1067.0,215.7 1065.5,216.0 1064.5,216.1 1063.0,216.4 1062.0,216.5 1060.5,216.7 1059.0,217.0 1058.0,217.1 1056.5,217.3 1055.4,217.5 1054.0,217.7 1052.5,217.9 1051.5,218.0 1050.0,218.2 1048.5,218.4 1047.5,218.6 1046.0,218.8 1044.5,218.9 1043.5,219.1 1042.0,219.2 1040.5,219.4 1039.5,219.5 1038.0,219.7 1036.5,219.9 1035.2,220.0 1034.0,220.1 1032.5,220.3 1031.0,220.4 1030.0,220.5 1028.5,220.6 1027.0,220.8 1025.5,220.9 1024.4,221.0 1023.0,221.1 1021.5,221.2 1020.0,221.3 1018.5,221.4 1017.5,221.5 1016.0,221.6 1014.5,221.7 1013.0,221.8 1011.5,221.9 1010.0,222.0 1009.0,222.0 1007.5,222.1 1006.0,222.2 1004.5,222.2 1003.0,222.3 1001.5,222.4 1000.0,222.4 998.5,222.5 997.5,222.5 996.0,222.6 994.5,222.6 993.0,222.6 991.5,222.7 990.0,222.7 988.5,222.7 987.0,222.7 985.5,222.7 984.0,222.7 982.5,222.8 981.0,222.8 979.5,222.8 978.0,222.7 976.5,222.7 975.0,222.7 973.5,222.7 972.0,222.7 970.5,222.6 969.0,222.6 967.5,222.6 966.0,222.5 965.0,222.5 963.5,222.4 962.0,222.4 960.5,222.3 959.0,222.3 957.5,222.2 956.0,222.1 954.5,222.1 953.4,222.0 952.0,221.9 950.5,221.8 949.0,221.7 947.5,221.6 946.0,221.5 945.0,221.5 943.5,221.4 942.0,221.2 940.5,221.1 939.1,221.0 938.0,220.9 936.5,220.8 935.0,220.6 933.7,220.5 932.5,220.4 931.0,220.2 929.5,220.1 928.5,220.0 927.0,219.8 925.5,219.6 924.5,219.5 923.0,219.3 921.5,219.1 920.5,219.0 919.0,218.8 917.5,218.6 916.5,218.4 915.0,218.2 913.7,218.0 912.5,217.8 911.0,217.6 910.0,217.4 908.5,217.2 907.5,217.0 906.0,216.7 904.8,216.5 903.5,216.3 902.2,216.0 901.0,215.8 899.7,215.5 898.5,215.2 897.4,215.0 896.0,214.7 895.0,214.5 893.5,214.1 892.5,213.9 891.0,213.5 890.0,213.3 889.0,213.0 887.5,212.6 886.5,212.3 885.4,212.0 884.0,211.6 883.0,211.3 882.0,211.0 880.5,210.5 879.5,210.2 878.5,209.8 877.5,209.5 876.2,209.0 875.0,208.5 874.0,208.1 873.0,207.7 872.0,207.3 871.0,206.8 870.0,206.4 869.0,205.9 868.0,205.4 867.0,204.9 866.0,204.3 865.0,203.7 864.0,203.0 863.2,202.5 862.5,202.0 861.5,201.2 860.7,200.5 860.0,199.8 859.2,199.0 858.5,198.1 858.0,197.3 857.5,196.4 857.0,195.2 856.7,194.0 856.7,192.5 856.9,191.0 857.3,190.0 857.7,189.0 858.4,188.0 859.0,187.2 859.6,186.5 860.5,185.6 861.2,185.0 862.0,184.3 863.0,183.6 863.8,183.0 864.6,182.5 865.5,181.9 866.5,181.3 867.5,180.8 868.5,180.3 869.5,179.8 870.5,179.3 871.5,178.8 872.5,178.4 873.5,178.0 874.7,177.5 876.0,177.0 877.0,176.6 878.0,176.3 879.0,175.9 880.3,175.5 881.5,175.1 882.5,174.8 883.5,174.5 885.0,174.0 886.0,173.7 887.0,173.5 888.5,173.1 889.5,172.8 890.6,172.5 892.0,172.2 893.0,171.9 894.5,171.6 895.5,171.3 897.0,171.0 898.0,170.8 899.3,170.5 900.5,170.3 901.8,170.0 903.0,169.8 904.4,169.5 905.5,169.3 907.0,169.0 908.0,168.9 909.5,168.6 910.5,168.4 912.0,168.2 913.2,168.0 914.5,167.8 916.0,167.6 917.0,167.4 918.5,167.2 920.0,167.0 921.0,166.9 922.5,166.7 923.9,166.5 925.0,166.4 926.5,166.2 928.0,166.0 929.0,165.9 930.5,165.7 932.0,165.6 933.0,165.5 934.5,165.3 936.0,165.2 937.5,165.1 938.5,165.0 940.0,164.8 941.5,164.7 943.0,164.6 944.4,164.5 945.5,164.4 947.0,164.3 948.5,164.2 950.0,164.1 951.5,164.0 952.5,164.0 954.0,163.9 955.5,163.8 957.0,163.7 958.5,163.7 960.0,163.6 961.5,163.5 962.7,163.5 964.0,163.5 965.5,163.4 967.0,163.4 968.5,163.3 970.0,163.3 971.5,163.3 973.0,163.2 974.5,163.2 976.0,163.2 977.5,163.2 979.0,163.2 980.5,163.2 982.0,163.2 983.5,163.2 985.0,163.2 986.5,163.2 988.0,163.2 989.5,163.2 991.0,163.3 992.5,163.3 994.0,163.3 995.5,163.4 997.0,163.4 998.5,163.4 1000.0,163.5 1001.0,163.5 1002.5,163.6 1004.0,163.7 1005.5,163.7 1007.0,163.8 1008.5,163.9 1010.0,163.9 1011.0,164.0 1012.5,164.1 1014.0,164.2 1015.5,164.3 1017.0,164.4 1018.5,164.5 1019.5,164.5 1021.0,164.7 1022.5,164.8 1024.0,164.9 1025.3,165.0 1026.5,165.1 1028.0,165.2 1029.5,165.4 1030.9,165.5 1032.0,165.6 1033.5,165.8 1035.0,165.9 1036.0,166.0 1037.5,166.2 1039.0,166.3 1040.4,166.5 1041.5,166.6 1043.0,166.8 1044.5,167.0 1045.5,167.1 1047.0,167.3 1048.5,167.5 1049.5,167.6 1051.0,167.8 1052.3,168.0 1053.5,168.2 1055.0,168.4 1056.0,168.5 1057.5,168.7 1059.0,169.0 1060.0,169.1 1061.5,169.3 1062.5,169.5 1064.0,169.7 1065.5,170.0 1066.5,170.1 1068.0,170.4 1069.0,170.6 1070.5,170.8 1071.7,171.0 1073.0,171.2 1074.5,171.5 1075.5,171.7 1077.0,171.9 1078.0,172.1 1079.5,172.4 1080.5,172.5 1082.0,172.8 1083.1,173.0 1084.5,173.3 1085.9,173.5 1087.0,173.7 1088.5,174.0 1089.5,174.1 1091.0,174.4 1092.0,174.6 1093.5,174.8 1094.7,175.0 1096.0,175.2 1097.5,175.4 1098.5,175.6 1100.0,175.8 1101.5,176.0 1102.5,176.1 1104.0,176.3 1105.5,176.5 1106.5,176.6 1108.0,176.7 1109.5,176.8 1111.0,176.9 1112.5,176.9 1114.0,177.0 1115.5,176.9 1117.0,176.9 1118.5,176.8 1120.0,176.7 1121.5,176.6 1122.5,176.4 1124.0,176.2 1125.1,176.0 1126.5,175.7 1127.5,175.5 1129.0,175.1 1130.0,174.8 1131.1,174.5 1132.5,174.0 1133.5,173.7 1134.5,173.3 1135.5,172.9 1136.6,172.5 1137.7,172.0 1138.8,171.5 1139.9,171.0 1140.9,170.5 1141.9,170.0 1142.9,169.5 1143.8,169.0 1144.7,168.5 1145.6,168.0 1146.5,167.5 1147.5,166.9 1148.5,166.3 1149.5,165.7 1150.5,165.1 1151.4,164.5 1152.2,164.0 1153.0,163.5 1154.0,162.8 1155.0,162.2 1156.0,161.5 1156.8,161.0 1157.6,160.5 1158.5,159.9 1159.5,159.3 1160.5,158.6 1161.4,158.0 1162.2,157.5 1163.0,157.0 1164.0,156.3 1165.0,155.7 1166.0,155.1 1166.9,154.5 1167.8,154.0 1168.6,153.5 1169.5,152.9 1170.5,152.3 1171.5,151.8 1172.5,151.2 1173.5,150.6 1174.5,150.1 1175.5,149.5 1176.5,149.0 1177.4,148.5 1178.4,148.0 1179.3,147.5 1180.3,147.0 1181.4,146.5 1182.4,146.0 1183.5,145.5 1184.5,145.0 1185.5,144.6 1186.5,144.1 1187.5,143.7 1188.5,143.3 1189.5,142.9 1190.5,142.5 1191.7,142.0 1193.0,141.5 1194.0,141.1 1195.0,140.8 1196.0,140.4 1197.2,140.0 1198.5,139.6 1199.5,139.2 1200.5,138.9 1201.9,138.5 1203.0,138.2 1204.0,137.9 1205.4,137.5 1206.5,137.2 1207.5,136.9 1209.0,136.5 1210.0,136.3 1211.3,136.0 1212.5,135.7 1213.5,135.5 1215.0,135.2 1216.0,135.0 1217.5,134.7 1218.5,134.5 1220.0,134.2 1221.4,134.0 1222.5,133.8 1224.0,133.6 1225.0,133.4 1226.5,133.2 1228.0,133.1 1229.0,132.9 1230.5,132.8 1232.0,132.6 1233.2,132.5 1234.5,132.4 1236.0,132.3 1237.5,132.2 1239.0,132.1 1240.2,132.0 1241.5,131.9 1243.0,131.9 1244.5,131.8 1246.0,131.8 1247.5,131.8 1249.0,131.8 1250.5,131.8 1252.0,131.8 1253.5,131.9 1255.0,131.9 1256.5,132.0 1257.5,132.0 1259.0,132.1 1260.5,132.2 1262.0,132.3 1263.5,132.4 1264.5,132.5 1266.0,132.7 1267.5,132.8 1269.0,133.0 1270.0,133.1 1271.5,133.3 1272.9,133.5 1274.0,133.7 1275.5,133.9 1276.5,134.1 1278.0,134.3 1279.0,134.5 1280.5,134.8 1281.6,135.0 1283.0,135.3 1284.0,135.5 1285.5,135.8 1286.5,136.1 1288.0,136.4 1289.0,136.7 1290.2,137.0 1291.5,137.3 1292.5,137.6 1293.9,138.0 1295.0,138.3 1296.0,138.6 1297.1,139.0 1298.5,139.4 1299.5,139.8 1300.5,140.1 1301.6,140.5 1303.0,141.0 1304.0,141.4 1305.0,141.8 1306.0,142.2 1307.0,142.6 1308.0,143.0 1309.2,143.5 1310.3,144.0 1311.4,144.5 1312.5,145.0 1313.5,145.5 1314.5,146.0 1315.5,146.5 1316.5,147.0 1317.5,147.5 1318.4,148.0 1319.3,148.5 1320.2,149.0 1321.1,149.5 1322.0,150.1 1323.0,150.7 1324.0,151.3 1325.0,151.9 1325.8,152.5 1326.6,153.0 1327.5,153.6 1328.5,154.4 1329.4,155.0 1330.0,155.5 1331.0,156.3 1331.9,157.0 1332.5,157.5 1333.5,158.3 1334.3,159.0 1335.0,159.6 1335.9,160.5 1336.5,161.0 1337.5,162.0 1338.0,162.5 1338.9,163.5 1339.5,164.1 1340.3,165.0 1341.0,165.9 1341.5,166.5 1342.3,167.5 1343.0,168.4 1343.5,169.1 1344.2,170.0 1344.8,171.0 1345.5,172.0 1346.0,172.8 1346.5,173.7 1347.0,174.6 1347.5,175.5 1348.0,176.5 1348.5,177.6 1349.0,178.8 1349.5,180.0 1349.9,181.0 1350.2,182.0 1350.5,183.0 1350.9,184.5 1351.1,185.5 1351.5,187.0 1351.6,188.0 1351.8,189.5 1352.0,191.0 1352.0,192.0 1352.1,193.5 1352.1,195.0 1352.0,196.1 1351.9,197.5 1351.7,199.0 1351.5,200.3 1351.3,201.5 1351.0,202.7 1350.7,204.0 1350.4,205.0 1350.0,206.1 1349.5,207.5 1349.1,208.5 1348.7,209.5 1348.2,210.5 1347.8,211.5 1347.3,212.5 1346.7,213.5 1346.1,214.5 1345.5,215.5 1345.0,216.3 1344.5,217.1 1343.9,218.0 1343.1,219.0 1342.5,219.8 1342.0,220.5 1341.2,221.5 1340.5,222.3 1339.9,223.0 1339.0,224.0 1338.5,224.5 1337.5,225.5 1337.0,226.0 1336.0,227.0 1335.5,227.5 1334.5,228.4 1333.8,229.0 1333.0,229.7 1332.0,230.5 1331.4,231.0 1330.5,231.7 1329.5,232.5 1328.8,233.0 1328.0,233.6 1327.0,234.3 1326.0,235.0 1325.2,235.5 1324.4,236.0 1323.5,236.6 1322.5,237.2 1321.5,237.8 1320.5,238.4 1319.5,239.0 1318.5,239.5 1317.6,240.0 1316.7,240.5 1315.7,241.0 1314.7,241.5 1313.7,242.0 1312.7,242.5 1311.6,243.0 1310.5,243.5 1309.5,243.9 1308.5,244.4 1307.5,244.8 1306.5,245.2 1305.5,245.6 1304.5,246.0 1303.1,246.5 1302.0,246.9 1301.0,247.3 1300.0,247.6 1298.9,248.0 1297.5,248.4 1296.5,248.8 1295.5,249.1 1294.1,249.5 1293.0,249.8 1292.0,250.1 1290.5,250.5 1289.5,250.8 1288.5,251.0 1287.0,251.4 1286.0,251.6 1284.5,252.0 1283.5,252.2 1282.0,252.5 1281.0,252.7 1279.5,253.0 1278.5,253.2 1277.0,253.4 1276.0,253.6 1274.5,253.8 1273.3,254.0 1272.0,254.2 1270.5,254.4 1269.5,254.5 1268.0,254.7 1266.5,254.9 1265.1,255.0 1264.0,255.1 1262.5,255.2 1261.0,255.3 1259.5,255.4 1258.5,255.5" stroke="#353535" stroke-width="1.9"/><path d="M1260.0,247.5 1258.5,247.6 1257.0,247.7 1255.5,247.8 1254.0,247.8 1252.5,247.9 1251.0,247.9 1249.5,247.9 1248.0,247.9 1246.5,247.9 1245.0,247.9 1243.5,247.8 1242.0,247.8 1240.5,247.7 1239.0,247.6 1237.5,247.5 1236.5,247.4 1235.0,247.3 1233.5,247.2 1232.0,247.0 1231.0,246.9 1229.5,246.7 1228.0,246.5 1227.0,246.3 1225.5,246.1 1224.5,246.0 1223.0,245.7 1221.9,245.5 1220.5,245.2 1219.4,245.0 1218.0,244.7 1217.0,244.5 1215.5,244.2 1214.5,243.9 1213.0,243.5 1212.0,243.3 1211.0,243.0 1209.5,242.6 1208.5,242.3 1207.5,242.0 1206.0,241.5 1205.0,241.2 1204.0,240.9 1202.9,240.5 1201.5,240.0 1200.5,239.7 1199.5,239.3 1198.5,238.9 1197.5,238.5 1196.3,238.0 1195.1,237.5 1194.0,237.0 1193.0,236.6 1192.0,236.1 1191.0,235.7 1190.0,235.2 1189.0,234.7 1188.0,234.2 1187.0,233.7 1186.0,233.2 1185.0,232.6 1184.0,232.1 1183.0,231.5 1182.1,231.0 1181.2,230.5 1180.4,230.0 1179.5,229.5 1178.5,228.9 1177.5,228.2 1176.5,227.6 1175.6,227.0 1174.8,226.5 1174.0,225.9 1173.0,225.3 1172.0,224.6 1171.2,224.0 1170.5,223.5 1169.5,222.8 1168.5,222.1 1167.7,221.5 1167.0,220.9 1166.0,220.2 1165.1,219.5 1164.4,219.0 1163.5,218.3 1162.5,217.5 1161.8,217.0 1161.0,216.3 1160.0,215.6 1159.3,215.0 1158.5,214.4 1157.5,213.6 1156.8,213.0 1156.0,212.4 1155.0,211.6 1154.3,211.0 1153.5,210.4 1152.5,209.6 1151.8,209.0 1151.0,208.4 1150.0,207.6 1149.3,207.0 1148.5,206.4 1147.5,205.6 1146.8,205.0 1146.0,204.3 1145.0,203.5 1144.4,203.0 1143.5,202.2 1142.6,201.5 1142.0,200.9 1141.0,200.0 1140.5,199.5 1139.5,198.5 1139.0,197.9 1138.2,197.0 1137.6,196.0 1137.1,195.0 1136.8,194.0 1136.8,192.5 1137.0,191.5 1137.5,190.5 1138.2,189.5 1139.0,188.5 1139.5,187.9 1140.4,187.0 1141.0,186.4 1142.0,185.6 1142.6,185.0 1143.5,184.3 1144.4,183.5 1145.0,183.0 1146.0,182.2 1146.9,181.5 1147.6,181.0 1148.5,180.3 1149.5,179.5 1150.1,179.0 1151.0,178.3 1152.0,177.6 1152.7,177.0 1153.5,176.4 1154.5,175.6 1155.3,175.0 1156.0,174.5 1157.0,173.7 1157.9,173.0 1158.6,172.5 1159.5,171.8 1160.5,171.1 1161.2,170.5 1162.0,169.9 1163.0,169.2 1163.9,168.5 1164.6,168.0 1165.5,167.3 1166.5,166.6 1167.3,166.0 1168.0,165.5 1169.0,164.8 1170.0,164.1 1170.9,163.5 1171.6,163.0 1172.5,162.4 1173.5,161.7 1174.5,161.1 1175.4,160.5 1176.1,160.0 1177.0,159.5 1178.0,158.8 1179.0,158.2 1180.0,157.6 1181.0,157.0 1181.9,156.5 1182.8,156.0 1183.7,155.5 1184.7,155.0 1185.6,154.5 1186.6,154.0 1187.5,153.5 1188.5,153.0 1189.6,152.5 1190.6,152.0 1191.7,151.5 1192.8,151.0 1193.9,150.5 1195.0,150.0 1196.0,149.6 1197.0,149.2 1198.0,148.8 1199.0,148.4 1200.2,148.0 1201.5,147.5 1202.5,147.2 1203.5,146.8 1204.5,146.5 1206.0,146.0 1207.0,145.7 1208.0,145.4 1209.3,145.0 1210.5,144.7 1211.5,144.4 1213.0,144.0 1214.0,143.8 1215.1,143.5 1216.5,143.2 1217.5,142.9 1219.0,142.6 1220.0,142.4 1221.5,142.1 1222.5,141.9 1224.0,141.7 1225.1,141.5 1226.5,141.3 1228.0,141.1 1229.0,140.9 1230.5,140.7 1232.0,140.6 1233.0,140.4 1234.5,140.3 1236.0,140.2 1237.5,140.0 1238.5,140.0 1240.0,139.9 1241.5,139.8 1243.0,139.7 1244.5,139.7 1246.0,139.6 1247.5,139.6 1249.0,139.6 1250.5,139.6 1252.0,139.7 1253.5,139.7 1255.0,139.8 1256.5,139.8 1258.0,139.9 1259.4,140.0 1260.5,140.1 1262.0,140.2 1263.5,140.3 1264.9,140.5 1266.0,140.6 1267.5,140.8 1269.0,141.0 1270.0,141.1 1271.5,141.4 1272.5,141.5 1274.0,141.8 1275.2,142.0 1276.5,142.2 1277.8,142.5 1279.0,142.8 1280.1,143.0 1281.5,143.3 1282.5,143.5 1284.0,143.9 1285.0,144.2 1286.2,144.5 1287.5,144.9 1288.5,145.2 1289.7,145.5 1291.0,145.9 1292.0,146.2 1293.0,146.6 1294.2,147.0 1295.5,147.4 1296.5,147.8 1297.5,148.2 1298.5,148.6 1299.5,149.0 1300.7,149.5 1301.9,150.0 1303.0,150.5 1304.0,150.9 1305.0,151.4 1306.0,151.9 1307.0,152.4 1308.0,152.9 1309.0,153.4 1310.0,154.0 1310.9,154.5 1311.8,155.0 1312.6,155.5 1313.5,156.0 1314.5,156.7 1315.5,157.3 1316.5,158.0 1317.2,158.5 1318.0,159.0 1319.0,159.8 1320.0,160.5 1320.6,161.0 1321.5,161.7 1322.4,162.5 1323.0,163.0 1324.0,163.9 1324.7,164.5 1325.5,165.3 1326.2,166.0 1327.0,166.8 1327.7,167.5 1328.5,168.4 1329.0,169.0 1329.9,170.0 1330.5,170.8 1331.0,171.5 1331.8,172.5 1332.5,173.5 1333.0,174.3 1333.5,175.1 1334.0,176.0 1334.6,177.0 1335.1,178.0 1335.6,179.0 1336.0,180.0 1336.5,181.1 1337.0,182.4 1337.4,183.5 1337.7,184.5 1338.0,185.7 1338.3,187.0 1338.5,188.0 1338.7,189.5 1338.9,191.0 1339.0,192.5 1339.0,193.5 1339.0,194.8 1338.9,196.0 1338.8,197.5 1338.6,199.0 1338.4,200.0 1338.1,201.5 1337.8,202.5 1337.5,203.7 1337.1,205.0 1336.7,206.0 1336.3,207.0 1335.9,208.0 1335.4,209.0 1334.9,210.0 1334.3,211.0 1333.8,212.0 1333.1,213.0 1332.5,214.0 1332.0,214.7 1331.4,215.5 1330.7,216.5 1330.0,217.4 1329.5,218.0 1328.6,219.0 1328.0,219.7 1327.3,220.5 1326.5,221.3 1325.8,222.0 1325.0,222.8 1324.2,223.5 1323.5,224.1 1322.5,225.0 1321.9,225.5 1321.0,226.3 1320.0,227.0 1319.4,227.5 1318.5,228.2 1317.5,228.9 1316.6,229.5 1315.9,230.0 1315.0,230.6 1314.0,231.2 1313.0,231.8 1312.0,232.4 1311.0,233.0 1310.1,233.5 1309.2,234.0 1308.3,234.5 1307.3,235.0 1306.3,235.5 1305.3,236.0 1304.2,236.5 1303.2,237.0 1302.0,237.5 1301.0,237.9 1300.0,238.4 1299.0,238.8 1298.0,239.2 1297.0,239.6 1295.8,240.0 1294.5,240.5 1293.5,240.8 1292.5,241.2 1291.5,241.5 1290.0,242.0 1289.0,242.3 1288.0,242.6 1286.5,243.0 1285.5,243.3 1284.5,243.5 1283.0,243.9 1282.0,244.1 1280.5,244.5 1279.5,244.7 1278.1,245.0 1277.0,245.2 1275.6,245.5 1274.5,245.7 1273.0,246.0 1272.0,246.1 1270.5,246.3 1269.4,246.5 1268.0,246.7 1266.5,246.9 1265.5,247.0 1264.0,247.2 1262.5,247.3 1261.0,247.4 1260.0,247.5" stroke="#494949" stroke-width="1.9"/><path d="M1001.0,218.5 999.5,218.6 998.0,218.6 996.5,218.7 995.0,218.7 993.5,218.8 992.0,218.8 990.5,218.9 989.0,218.9 987.5,218.9 986.0,218.9 984.5,218.9 983.0,218.9 981.5,218.9 980.0,218.9 978.5,218.9 977.0,218.9 975.5,218.9 974.0,218.9 972.5,218.9 971.0,218.8 969.5,218.8 968.0,218.8 966.5,218.7 965.0,218.7 963.5,218.6 962.0,218.5 961.0,218.5 959.5,218.4 958.0,218.3 956.5,218.3 955.0,218.2 953.5,218.1 952.2,218.0 951.0,217.9 949.5,217.8 948.0,217.7 946.5,217.6 945.5,217.5 944.0,217.4 942.5,217.2 941.0,217.1 940.0,217.0 938.5,216.9 937.0,216.7 935.5,216.5 934.5,216.4 933.0,216.3 931.5,216.1 930.5,215.9 929.0,215.8 927.5,215.6 926.5,215.4 925.0,215.2 923.6,215.0 922.5,214.8 921.0,214.6 920.0,214.4 918.5,214.2 917.4,214.0 916.0,213.7 914.6,213.5 913.5,213.3 912.0,213.0 911.0,212.8 909.6,212.5 908.5,212.3 907.2,212.0 906.0,211.7 905.0,211.5 903.5,211.1 902.5,210.9 901.0,210.5 900.0,210.2 899.0,210.0 897.5,209.5 896.5,209.2 895.5,208.9 894.1,208.5 893.0,208.1 892.0,207.8 891.0,207.4 889.8,207.0 888.5,206.5 887.5,206.1 886.5,205.7 885.5,205.3 884.5,204.8 883.5,204.3 882.5,203.8 881.5,203.3 880.5,202.7 879.5,202.1 878.6,201.5 877.9,201.0 877.0,200.3 876.0,199.5 875.5,199.0 874.6,198.0 874.0,197.2 873.5,196.4 873.0,195.3 872.6,194.0 872.6,192.5 872.9,191.0 873.3,190.0 873.8,189.0 874.5,188.1 875.0,187.5 876.0,186.5 876.5,186.0 877.5,185.2 878.5,184.5 879.2,184.0 880.0,183.5 881.0,182.9 882.0,182.4 883.0,181.8 884.0,181.3 885.0,180.9 886.0,180.4 887.0,180.0 888.3,179.5 889.5,179.0 890.5,178.7 891.5,178.3 892.5,178.0 893.9,177.5 895.0,177.1 896.0,176.8 897.1,176.5 898.5,176.1 899.5,175.8 900.7,175.5 902.0,175.2 903.0,174.9 904.5,174.6 905.5,174.3 906.9,174.0 908.0,173.8 909.2,173.5 910.5,173.2 911.6,173.0 913.0,172.7 914.2,172.5 915.5,172.3 917.0,172.0 918.0,171.8 919.5,171.6 920.5,171.4 922.0,171.2 923.1,171.0 924.5,170.8 926.0,170.6 927.0,170.4 928.5,170.2 930.0,170.0 931.0,169.9 932.5,169.7 934.0,169.6 935.0,169.4 936.5,169.3 938.0,169.1 939.2,169.0 940.5,168.9 942.0,168.7 943.5,168.6 944.5,168.5 946.0,168.4 947.5,168.3 949.0,168.1 950.5,168.0 951.5,168.0 953.0,167.9 954.5,167.8 956.0,167.7 957.5,167.6 959.0,167.5 960.0,167.5 961.5,167.4 963.0,167.3 964.5,167.3 966.0,167.2 967.5,167.2 969.0,167.1 970.5,167.1 972.0,167.1 973.5,167.0 975.0,167.0 976.5,167.0 977.5,167.0 979.0,167.0 980.5,167.0 982.0,167.0 983.5,167.0 985.0,167.0 986.0,167.0 987.5,167.0 989.0,167.0 990.5,167.1 992.0,167.1 993.5,167.1 995.0,167.2 996.5,167.2 998.0,167.3 999.5,167.3 1001.0,167.4 1002.5,167.5 1003.5,167.5 1005.0,167.6 1006.5,167.7 1008.0,167.8 1009.5,167.8 1011.0,167.9 1012.0,168.0 1013.5,168.1 1015.0,168.2 1016.5,168.3 1018.0,168.5 1019.0,168.5 1020.5,168.7 1022.0,168.8 1023.5,169.0 1024.5,169.0 1026.0,169.2 1027.5,169.4 1028.8,169.5 1030.0,169.6 1031.5,169.8 1033.0,170.0 1034.0,170.1 1035.5,170.3 1037.0,170.5 1038.0,170.6 1039.5,170.8 1040.8,171.0 1042.0,171.2 1043.5,171.4 1044.5,171.5 1046.0,171.8 1047.4,172.0 1048.5,172.2 1050.0,172.4 1051.0,172.6 1052.5,172.9 1053.5,173.0 1055.0,173.3 1056.0,173.5 1057.5,173.8 1058.5,174.0 1060.0,174.3 1061.0,174.5 1062.5,174.8 1063.5,175.0 1065.0,175.4 1066.0,175.6 1067.5,175.9 1068.5,176.2 1069.9,176.5 1071.0,176.8 1072.0,177.0 1073.5,177.4 1074.5,177.7 1075.7,178.0 1077.0,178.4 1078.0,178.6 1079.3,179.0 1080.5,179.4 1081.5,179.7 1082.6,180.0 1084.0,180.4 1085.0,180.8 1086.0,181.1 1087.2,181.5 1088.5,181.9 1089.5,182.3 1090.5,182.7 1091.5,183.1 1092.7,183.5 1093.9,184.0 1095.0,184.5 1096.0,184.9 1097.0,185.4 1098.0,185.8 1099.0,186.3 1100.0,186.9 1101.0,187.4 1102.0,188.0 1102.7,188.5 1103.5,189.1 1104.5,189.9 1105.0,190.5 1105.7,191.5 1106.1,192.5 1106.0,194.0 1105.5,194.9 1105.0,195.6 1104.1,196.5 1103.4,197.0 1102.5,197.7 1101.5,198.3 1100.5,198.9 1099.5,199.4 1098.5,199.9 1097.5,200.4 1096.5,200.9 1095.5,201.3 1094.5,201.7 1093.5,202.2 1092.5,202.6 1091.3,203.0 1090.0,203.5 1089.0,203.9 1088.0,204.2 1087.0,204.6 1085.7,205.0 1084.5,205.4 1083.5,205.7 1082.5,206.0 1081.0,206.5 1080.0,206.8 1079.0,207.0 1077.5,207.5 1076.5,207.7 1075.5,208.0 1074.0,208.4 1073.0,208.7 1071.7,209.0 1070.5,209.3 1069.5,209.5 1068.0,209.9 1067.0,210.1 1065.5,210.5 1064.5,210.7 1063.1,211.0 1062.0,211.2 1060.7,211.5 1059.5,211.7 1058.2,212.0 1057.0,212.2 1055.6,212.5 1054.5,212.7 1053.0,213.0 1052.0,213.2 1050.5,213.4 1049.5,213.6 1048.0,213.8 1047.0,214.0 1045.5,214.2 1044.0,214.5 1043.0,214.6 1041.5,214.8 1040.3,215.0 1039.0,215.2 1037.5,215.4 1036.5,215.5 1035.0,215.7 1033.5,215.9 1032.5,216.0 1031.0,216.2 1029.5,216.4 1028.1,216.5 1027.0,216.6 1025.5,216.8 1024.0,216.9 1023.0,217.0 1021.5,217.2 1020.0,217.3 1018.5,217.4 1017.5,217.5 1016.0,217.6 1014.5,217.7 1013.0,217.8 1011.5,217.9 1010.5,218.0 1009.0,218.1 1007.5,218.2 1006.0,218.3 1004.5,218.4 1003.0,218.4 1001.5,218.5 1001.0,218.5" stroke="#494949" stroke-width="1.9"/><path d="M1259.0,240.5 1257.5,240.6 1256.0,240.7 1254.5,240.8 1253.0,240.9 1251.5,240.9 1250.0,240.9 1248.5,240.9 1247.0,240.9 1245.5,240.9 1244.0,240.8 1242.5,240.8 1241.0,240.7 1239.5,240.6 1238.1,240.5 1237.0,240.4 1235.5,240.3 1234.0,240.1 1233.0,240.0 1231.5,239.8 1230.0,239.6 1229.0,239.4 1227.5,239.2 1226.4,239.0 1225.0,238.7 1223.7,238.5 1222.5,238.3 1221.3,238.0 1220.0,237.7 1219.0,237.5 1217.5,237.1 1216.5,236.8 1215.3,236.5 1214.0,236.1 1213.0,235.9 1211.8,235.5 1210.5,235.1 1209.5,234.7 1208.5,234.4 1207.3,234.0 1206.0,233.5 1205.0,233.1 1204.0,232.7 1203.0,232.3 1202.0,231.9 1201.0,231.5 1199.9,231.0 1198.8,230.5 1197.7,230.0 1196.7,229.5 1195.6,229.0 1194.7,228.5 1193.7,228.0 1192.8,227.5 1191.9,227.0 1191.0,226.5 1190.0,225.9 1189.0,225.3 1188.0,224.7 1187.0,224.1 1186.0,223.5 1185.3,223.0 1184.5,222.5 1183.5,221.8 1182.5,221.1 1181.7,220.5 1181.0,220.0 1180.0,219.3 1179.0,218.5 1178.4,218.0 1177.5,217.3 1176.5,216.5 1175.9,216.0 1175.0,215.2 1174.2,214.5 1173.5,213.9 1172.5,213.0 1172.0,212.5 1171.0,211.6 1170.4,211.0 1169.5,210.1 1168.9,209.5 1168.0,208.5 1167.5,208.0 1166.6,207.0 1166.0,206.3 1165.4,205.5 1164.6,204.5 1164.0,203.7 1163.5,203.0 1162.9,202.0 1162.3,201.0 1161.7,200.0 1161.2,199.0 1160.8,198.0 1160.5,196.9 1160.2,195.5 1160.0,194.0 1160.0,193.0 1160.1,192.0 1160.3,190.5 1160.6,189.5 1161.0,188.4 1161.5,187.3 1162.0,186.3 1162.5,185.4 1163.1,184.5 1163.8,183.5 1164.5,182.5 1165.0,181.9 1165.7,181.0 1166.5,180.1 1167.1,179.5 1168.0,178.5 1168.5,178.0 1169.5,177.0 1170.0,176.5 1171.0,175.5 1171.5,175.0 1172.5,174.1 1173.2,173.5 1174.0,172.8 1175.0,172.0 1175.6,171.5 1176.5,170.7 1177.4,170.0 1178.1,169.5 1179.0,168.8 1180.0,168.0 1180.7,167.5 1181.5,167.0 1182.5,166.3 1183.5,165.6 1184.3,165.0 1185.1,164.5 1186.0,163.9 1187.0,163.3 1188.0,162.7 1189.0,162.1 1190.0,161.5 1190.9,161.0 1191.8,160.5 1192.7,160.0 1193.6,159.5 1194.6,159.0 1195.6,158.5 1196.6,158.0 1197.7,157.5 1198.8,157.0 1199.9,156.5 1201.0,156.0 1202.0,155.6 1203.0,155.2 1204.0,154.8 1205.0,154.4 1206.0,154.0 1207.4,153.5 1208.5,153.1 1209.5,152.8 1210.5,152.5 1212.0,152.0 1213.0,151.7 1214.0,151.4 1215.4,151.0 1216.5,150.7 1217.5,150.5 1219.0,150.1 1220.0,149.8 1221.5,149.5 1222.5,149.3 1224.0,149.0 1225.0,148.8 1226.5,148.5 1227.5,148.4 1229.0,148.1 1230.0,148.0 1231.5,147.8 1233.0,147.6 1234.0,147.5 1235.5,147.3 1237.0,147.2 1238.5,147.0 1239.5,147.0 1241.0,146.9 1242.5,146.8 1244.0,146.7 1245.5,146.7 1247.0,146.6 1248.5,146.6 1250.0,146.6 1251.5,146.7 1253.0,146.7 1254.5,146.8 1256.0,146.8 1257.5,146.9 1258.5,147.0 1260.0,147.1 1261.5,147.3 1263.0,147.4 1264.0,147.5 1265.5,147.7 1267.0,147.9 1268.0,148.1 1269.5,148.3 1270.6,148.5 1272.0,148.7 1273.3,149.0 1274.5,149.2 1275.7,149.5 1277.0,149.8 1278.0,150.0 1279.5,150.4 1280.5,150.7 1281.8,151.0 1283.0,151.3 1284.0,151.6 1285.2,152.0 1286.5,152.4 1287.5,152.8 1288.5,153.1 1289.6,153.5 1290.9,154.0 1292.0,154.4 1293.0,154.8 1294.0,155.2 1295.0,155.7 1296.0,156.1 1297.0,156.6 1298.0,157.0 1299.0,157.5 1300.0,158.0 1301.0,158.6 1302.0,159.1 1303.0,159.7 1304.0,160.3 1305.0,160.9 1306.0,161.5 1306.8,162.0 1307.5,162.5 1308.5,163.2 1309.5,163.9 1310.3,164.5 1311.0,165.0 1312.0,165.8 1312.8,166.5 1313.5,167.1 1314.5,168.0 1315.1,168.5 1316.0,169.4 1316.6,170.0 1317.5,170.9 1318.0,171.5 1318.9,172.5 1319.5,173.3 1320.1,174.0 1320.8,175.0 1321.5,176.0 1322.0,176.7 1322.5,177.5 1323.1,178.5 1323.6,179.5 1324.1,180.5 1324.6,181.5 1325.0,182.5 1325.5,183.7 1326.0,185.0 1326.3,186.0 1326.5,187.0 1326.8,188.5 1327.0,189.5 1327.2,191.0 1327.3,192.5 1327.3,194.0 1327.3,195.5 1327.1,197.0 1327.0,198.1 1326.7,199.5 1326.5,200.6 1326.1,202.0 1325.8,203.0 1325.5,204.0 1325.0,205.2 1324.5,206.3 1324.0,207.4 1323.5,208.3 1323.0,209.2 1322.5,210.1 1321.9,211.0 1321.2,212.0 1320.5,213.0 1320.0,213.7 1319.3,214.5 1318.5,215.5 1318.0,216.1 1317.1,217.0 1316.5,217.7 1315.7,218.5 1315.0,219.1 1314.1,220.0 1313.5,220.5 1312.5,221.3 1311.7,222.0 1311.0,222.6 1310.0,223.3 1309.1,224.0 1308.4,224.5 1307.5,225.1 1306.5,225.8 1305.5,226.4 1304.5,227.0 1303.7,227.5 1302.8,228.0 1301.9,228.5 1301.0,229.0 1300.0,229.5 1299.0,230.0 1298.0,230.5 1297.0,231.0 1295.9,231.5 1294.8,232.0 1293.6,232.5 1292.5,232.9 1291.5,233.3 1290.5,233.7 1289.5,234.1 1288.4,234.5 1287.0,235.0 1286.0,235.3 1285.0,235.6 1283.7,236.0 1282.5,236.4 1281.5,236.6 1280.1,237.0 1279.0,237.3 1278.0,237.5 1276.5,237.9 1275.5,238.1 1274.0,238.4 1273.0,238.6 1271.5,238.9 1270.5,239.1 1269.0,239.3 1267.9,239.5 1266.5,239.7 1265.0,239.9 1264.0,240.0 1262.5,240.2 1261.0,240.4 1259.5,240.5 1259.0,240.5" stroke="#606060" stroke-width="1.9"/><path d="M987.0,215.5 985.5,215.5 984.0,215.5 982.5,215.5 981.0,215.5 979.5,215.5 978.0,215.5 976.5,215.5 975.1,215.5 974.0,215.5 972.5,215.5 971.0,215.4 969.5,215.4 968.0,215.3 966.5,215.3 965.0,215.2 963.5,215.1 962.0,215.1 960.5,215.0 959.5,214.9 958.0,214.9 956.5,214.8 955.0,214.7 953.5,214.6 952.5,214.5 951.0,214.4 949.5,214.2 948.0,214.1 946.8,214.0 945.5,213.9 944.0,213.7 942.5,213.6 941.5,213.5 940.0,213.3 938.5,213.1 937.5,213.0 936.0,212.8 934.5,212.6 933.5,212.5 932.0,212.2 930.5,212.0 929.5,211.9 928.0,211.6 927.0,211.5 925.5,211.2 924.3,211.0 923.0,210.8 921.6,210.5 920.5,210.3 919.2,210.0 918.0,209.8 916.8,209.5 915.5,209.2 914.5,209.0 913.0,208.6 912.0,208.3 910.7,208.0 909.5,207.7 908.5,207.4 907.2,207.0 906.0,206.6 905.0,206.3 904.0,206.0 902.6,205.5 901.5,205.1 900.5,204.7 899.5,204.3 898.5,203.9 897.5,203.4 896.5,203.0 895.5,202.5 894.5,201.9 893.5,201.4 892.5,200.7 891.5,200.0 890.8,199.5 890.0,198.9 889.1,198.0 888.5,197.3 887.9,196.5 887.3,195.5 886.9,194.5 886.7,193.0 886.9,191.5 887.3,190.5 887.8,189.5 888.5,188.6 889.0,188.0 890.0,187.1 890.7,186.5 891.5,185.9 892.5,185.2 893.5,184.6 894.5,184.0 895.4,183.5 896.4,183.0 897.5,182.5 898.5,182.0 899.5,181.6 900.5,181.2 901.5,180.8 902.5,180.5 903.8,180.0 905.0,179.6 906.0,179.3 907.0,179.0 908.5,178.5 909.5,178.2 910.5,178.0 912.0,177.6 913.0,177.3 914.3,177.0 915.5,176.7 916.5,176.5 918.0,176.2 919.0,176.0 920.5,175.6 921.5,175.4 923.0,175.2 924.0,175.0 925.5,174.7 926.7,174.5 928.0,174.3 929.5,174.1 930.5,173.9 932.0,173.7 933.2,173.5 934.5,173.3 936.0,173.1 937.0,173.0 938.5,172.8 940.0,172.6 941.1,172.5 942.5,172.4 944.0,172.2 945.5,172.0 946.5,171.9 948.0,171.8 949.5,171.7 951.0,171.6 952.0,171.5 953.5,171.4 955.0,171.3 956.5,171.2 958.0,171.1 959.1,171.0 960.5,170.9 962.0,170.8 963.5,170.8 965.0,170.7 966.5,170.6 968.0,170.6 969.5,170.5 971.0,170.5 972.0,170.5 973.5,170.4 975.0,170.4 976.5,170.4 978.0,170.4 979.5,170.4 981.0,170.4 982.5,170.4 984.0,170.4 985.5,170.4 987.0,170.4 988.5,170.4 990.0,170.5 991.3,170.5 992.5,170.5 994.0,170.6 995.5,170.6 997.0,170.7 998.5,170.7 1000.0,170.8 1001.5,170.9 1003.0,171.0 1004.0,171.0 1005.5,171.1 1007.0,171.2 1008.5,171.3 1010.0,171.4 1011.0,171.5 1012.5,171.6 1014.0,171.7 1015.5,171.9 1016.8,172.0 1018.0,172.1 1019.5,172.3 1021.0,172.4 1022.0,172.5 1023.5,172.7 1025.0,172.9 1026.1,173.0 1027.5,173.2 1029.0,173.4 1030.0,173.5 1031.5,173.7 1033.0,173.9 1034.0,174.1 1035.5,174.3 1036.7,174.5 1038.0,174.7 1039.5,175.0 1040.5,175.1 1042.0,175.4 1043.0,175.6 1044.5,175.9 1045.5,176.1 1047.0,176.4 1048.0,176.6 1049.5,176.9 1050.5,177.2 1052.0,177.5 1053.0,177.7 1054.1,178.0 1055.5,178.4 1056.5,178.6 1057.9,179.0 1059.0,179.3 1060.0,179.6 1061.4,180.0 1062.5,180.4 1063.5,180.7 1064.5,181.0 1065.9,181.5 1067.0,181.9 1068.0,182.3 1069.0,182.7 1070.0,183.1 1071.0,183.5 1072.0,184.0 1073.1,184.5 1074.0,185.0 1075.0,185.5 1076.0,186.1 1077.0,186.8 1078.0,187.5 1078.6,188.0 1079.5,188.9 1080.0,189.5 1080.7,190.5 1081.2,191.5 1081.4,193.0 1081.2,194.5 1080.7,195.5 1080.0,196.5 1079.5,197.1 1078.5,198.0 1077.9,198.5 1077.0,199.2 1076.0,199.8 1075.0,200.4 1074.0,201.0 1073.0,201.5 1072.0,202.0 1071.0,202.4 1070.0,202.8 1069.0,203.3 1068.0,203.7 1067.0,204.0 1065.7,204.5 1064.5,204.9 1063.5,205.3 1062.5,205.6 1061.1,206.0 1060.0,206.3 1059.0,206.6 1057.7,207.0 1056.5,207.3 1055.5,207.6 1054.0,208.0 1053.0,208.2 1051.7,208.5 1050.5,208.8 1049.5,209.0 1048.0,209.3 1047.0,209.5 1045.5,209.8 1044.5,210.0 1043.0,210.3 1042.0,210.5 1040.5,210.8 1039.2,211.0 1038.0,211.2 1036.5,211.5 1035.5,211.6 1034.0,211.8 1032.9,212.0 1031.5,212.2 1030.0,212.4 1029.0,212.6 1027.5,212.7 1026.0,212.9 1025.0,213.1 1023.5,213.2 1022.0,213.4 1021.0,213.5 1019.5,213.7 1018.0,213.8 1016.5,214.0 1015.5,214.0 1014.0,214.2 1012.5,214.3 1011.0,214.4 1009.9,214.5 1008.5,214.6 1007.0,214.7 1005.5,214.8 1004.0,214.9 1002.5,215.0 1001.5,215.0 1000.0,215.1 998.5,215.2 997.0,215.2 995.5,215.3 994.0,215.3 992.5,215.4 991.0,215.4 989.5,215.5 988.0,215.5 987.0,215.5" stroke="#606060" stroke-width="1.9"/><path d="M1256.5,234.0 1255.0,234.1 1253.5,234.2 1252.0,234.2 1250.5,234.3 1249.0,234.3 1247.5,234.3 1246.0,234.3 1244.5,234.2 1243.0,234.1 1241.5,234.1 1240.5,234.0 1239.0,233.9 1237.5,233.7 1236.0,233.6 1235.0,233.5 1233.5,233.3 1232.0,233.0 1231.0,232.9 1229.5,232.6 1228.5,232.5 1227.0,232.2 1226.0,232.0 1224.5,231.6 1223.5,231.4 1222.0,231.1 1221.0,230.8 1219.9,230.5 1218.5,230.1 1217.5,229.8 1216.5,229.5 1215.0,229.0 1214.0,228.7 1213.0,228.3 1212.0,228.0 1210.7,227.5 1209.5,227.0 1208.5,226.6 1207.5,226.2 1206.5,225.7 1205.5,225.3 1204.5,224.8 1203.5,224.3 1202.5,223.8 1201.5,223.3 1200.5,222.8 1199.5,222.2 1198.5,221.7 1197.5,221.1 1196.5,220.5 1195.7,220.0 1195.0,219.5 1194.0,218.9 1193.0,218.2 1192.0,217.5 1191.3,217.0 1190.5,216.4 1189.5,215.6 1188.8,215.0 1188.0,214.4 1187.0,213.5 1186.4,213.0 1185.5,212.2 1184.8,211.5 1184.0,210.7 1183.3,210.0 1182.5,209.1 1181.9,208.5 1181.1,207.5 1180.5,206.8 1179.9,206.0 1179.1,205.0 1178.5,204.0 1178.0,203.3 1177.5,202.4 1177.0,201.5 1176.5,200.4 1176.0,199.2 1175.6,198.0 1175.4,197.0 1175.1,195.5 1175.0,194.5 1175.0,193.0 1175.0,192.0 1175.3,190.5 1175.5,189.5 1176.0,188.0 1176.4,187.0 1176.8,186.0 1177.3,185.0 1177.9,184.0 1178.5,183.1 1179.0,182.4 1179.6,181.5 1180.4,180.5 1181.0,179.8 1181.7,179.0 1182.5,178.1 1183.1,177.5 1184.0,176.5 1184.6,176.0 1185.5,175.1 1186.2,174.5 1187.0,173.8 1188.0,173.0 1188.6,172.5 1189.5,171.8 1190.5,171.0 1191.2,170.5 1192.0,169.9 1193.0,169.2 1194.0,168.5 1194.8,168.0 1195.6,167.5 1196.5,167.0 1197.5,166.4 1198.5,165.8 1199.5,165.2 1200.5,164.7 1201.5,164.1 1202.5,163.6 1203.5,163.1 1204.5,162.7 1205.5,162.2 1206.5,161.8 1207.5,161.3 1208.5,160.9 1209.5,160.5 1210.8,160.0 1212.0,159.5 1213.0,159.2 1214.0,158.8 1215.0,158.5 1216.5,158.0 1217.5,157.7 1218.5,157.4 1220.0,157.0 1221.0,156.7 1222.0,156.5 1223.5,156.1 1224.5,155.9 1226.0,155.6 1227.0,155.4 1228.5,155.1 1229.5,154.9 1231.0,154.7 1232.0,154.5 1233.5,154.3 1235.0,154.1 1236.0,154.0 1237.5,153.8 1239.0,153.7 1240.5,153.6 1241.5,153.5 1243.0,153.4 1244.5,153.4 1246.0,153.3 1247.5,153.3 1249.0,153.3 1250.5,153.3 1252.0,153.3 1253.5,153.4 1255.0,153.5 1256.0,153.5 1257.5,153.6 1259.0,153.8 1260.5,153.9 1261.5,154.0 1263.0,154.2 1264.5,154.4 1265.5,154.6 1267.0,154.8 1268.2,155.0 1269.5,155.2 1270.7,155.5 1272.0,155.8 1273.0,156.0 1274.5,156.4 1275.5,156.6 1277.0,157.0 1278.0,157.3 1279.0,157.6 1280.3,158.0 1281.5,158.4 1282.5,158.7 1283.5,159.1 1284.7,159.5 1286.0,160.0 1287.0,160.4 1288.0,160.8 1289.0,161.3 1290.0,161.7 1291.0,162.2 1292.0,162.7 1293.0,163.2 1294.0,163.7 1295.0,164.3 1296.0,164.9 1297.0,165.5 1297.8,166.0 1298.6,166.5 1299.5,167.1 1300.5,167.8 1301.5,168.5 1302.1,169.0 1303.0,169.7 1304.0,170.5 1304.5,171.0 1305.5,171.9 1306.2,172.5 1307.0,173.3 1307.6,174.0 1308.5,175.0 1309.0,175.5 1309.8,176.5 1310.5,177.4 1311.0,178.1 1311.6,179.0 1312.2,180.0 1312.8,181.0 1313.3,182.0 1313.8,183.0 1314.2,184.0 1314.6,185.0 1315.0,186.1 1315.4,187.5 1315.7,188.5 1315.9,190.0 1316.1,191.0 1316.2,192.5 1316.2,194.0 1316.2,195.5 1316.0,197.0 1315.9,198.0 1315.6,199.5 1315.3,200.5 1315.0,201.5 1314.5,202.9 1314.1,204.0 1313.6,205.0 1313.1,206.0 1312.5,207.0 1312.0,207.9 1311.5,208.7 1310.9,209.5 1310.2,210.5 1309.5,211.4 1309.0,212.0 1308.1,213.0 1307.5,213.7 1306.7,214.5 1306.0,215.2 1305.2,216.0 1304.5,216.6 1303.5,217.5 1302.8,218.0 1302.0,218.7 1301.0,219.4 1300.2,220.0 1299.5,220.5 1298.5,221.1 1297.5,221.8 1296.5,222.4 1295.5,223.0 1294.6,223.5 1293.7,224.0 1292.7,224.5 1291.7,225.0 1290.7,225.5 1289.6,226.0 1288.5,226.5 1287.5,226.9 1286.5,227.3 1285.5,227.7 1284.5,228.1 1283.5,228.5 1282.0,229.0 1281.0,229.3 1280.0,229.7 1278.9,230.0 1277.5,230.4 1276.5,230.7 1275.3,231.0 1274.0,231.3 1273.0,231.6 1271.5,231.9 1270.5,232.1 1269.0,232.4 1268.0,232.6 1266.5,232.8 1265.5,233.0 1264.0,233.2 1262.5,233.4 1261.5,233.5 1260.0,233.7 1258.5,233.8 1257.0,234.0 1256.5,234.0" stroke="#797979" stroke-width="1.9"/><path d="M996.0,212.0 994.5,212.1 993.0,212.1 991.5,212.2 990.0,212.2 988.5,212.3 987.0,212.3 985.5,212.3 984.0,212.3 982.5,212.3 981.0,212.3 979.5,212.3 978.0,212.3 976.5,212.3 975.0,212.3 973.5,212.3 972.0,212.2 970.5,212.2 969.0,212.1 967.5,212.1 966.0,212.0 965.0,212.0 963.5,211.9 962.0,211.8 960.5,211.7 959.0,211.6 957.5,211.5 956.5,211.4 955.0,211.3 953.5,211.2 952.0,211.0 951.0,211.0 949.5,210.8 948.0,210.6 946.7,210.5 945.5,210.4 944.0,210.2 942.5,210.0 941.5,209.9 940.0,209.7 938.9,209.5 937.5,209.3 936.0,209.1 935.0,208.9 933.5,208.6 932.5,208.5 931.0,208.2 930.0,208.0 928.5,207.7 927.5,207.5 926.0,207.2 925.0,206.9 923.5,206.6 922.5,206.3 921.2,206.0 920.0,205.7 919.0,205.4 917.6,205.0 916.5,204.6 915.5,204.3 914.5,204.0 913.1,203.5 912.0,203.1 911.0,202.7 910.0,202.2 909.0,201.8 908.0,201.3 907.0,200.8 906.0,200.2 905.0,199.6 904.1,199.0 903.5,198.5 902.5,197.6 901.9,197.0 901.1,196.0 900.6,195.0 900.2,194.0 900.1,192.5 900.5,191.1 901.0,190.1 901.5,189.4 902.3,188.5 903.0,187.8 904.0,187.0 904.7,186.5 905.5,186.0 906.5,185.4 907.5,184.9 908.5,184.4 909.5,183.9 910.5,183.5 911.6,183.0 912.9,182.5 914.0,182.1 915.0,181.8 916.0,181.4 917.4,181.0 918.5,180.7 919.5,180.4 920.9,180.0 922.0,179.7 923.0,179.5 924.5,179.1 925.5,178.9 927.0,178.5 928.0,178.3 929.5,178.0 930.5,177.8 932.0,177.5 933.0,177.4 934.5,177.1 935.5,176.9 937.0,176.7 938.4,176.5 939.5,176.3 941.0,176.1 942.0,176.0 943.5,175.8 945.0,175.6 946.0,175.5 947.5,175.3 949.0,175.2 950.5,175.0 951.5,174.9 953.0,174.8 954.5,174.7 956.0,174.5 957.0,174.5 958.5,174.4 960.0,174.3 961.5,174.2 963.0,174.1 964.4,174.0 965.5,173.9 967.0,173.9 968.5,173.8 970.0,173.8 971.5,173.7 973.0,173.7 974.5,173.6 976.0,173.6 977.5,173.6 979.0,173.6 980.5,173.6 982.0,173.6 983.5,173.6 985.0,173.6 986.5,173.6 988.0,173.6 989.5,173.7 991.0,173.7 992.5,173.8 994.0,173.8 995.5,173.9 997.0,173.9 998.1,174.0 999.5,174.1 1001.0,174.2 1002.5,174.3 1004.0,174.4 1005.5,174.5 1006.5,174.5 1008.0,174.7 1009.5,174.8 1011.0,174.9 1012.0,175.0 1013.5,175.2 1015.0,175.3 1016.5,175.5 1017.5,175.6 1019.0,175.8 1020.5,176.0 1021.5,176.1 1023.0,176.3 1024.5,176.5 1025.5,176.6 1027.0,176.9 1028.0,177.0 1029.5,177.3 1030.8,177.5 1032.0,177.7 1033.5,178.0 1034.5,178.2 1036.0,178.5 1037.0,178.7 1038.4,179.0 1039.5,179.3 1040.6,179.5 1042.0,179.9 1043.0,180.1 1044.5,180.5 1045.5,180.8 1046.5,181.1 1048.0,181.5 1049.0,181.8 1050.0,182.1 1051.0,182.5 1052.4,183.0 1053.5,183.4 1054.5,183.8 1055.5,184.2 1056.5,184.7 1057.5,185.2 1058.5,185.7 1059.5,186.3 1060.5,186.9 1061.4,187.5 1062.0,188.0 1063.0,188.9 1063.5,189.5 1064.3,190.5 1064.7,191.5 1065.0,193.0 1064.7,194.5 1064.2,195.5 1063.5,196.5 1063.0,197.0 1062.0,197.9 1061.3,198.5 1060.5,199.0 1059.5,199.7 1058.5,200.2 1057.5,200.7 1056.5,201.2 1055.5,201.7 1054.5,202.1 1053.5,202.5 1052.2,203.0 1051.0,203.4 1050.0,203.8 1049.0,204.1 1047.7,204.5 1046.5,204.9 1045.5,205.2 1044.2,205.5 1043.0,205.8 1042.0,206.1 1040.5,206.4 1039.5,206.7 1038.0,207.0 1037.0,207.2 1035.7,207.5 1034.5,207.7 1033.1,208.0 1032.0,208.2 1030.5,208.5 1029.5,208.6 1028.0,208.9 1027.0,209.0 1025.5,209.3 1024.0,209.5 1023.0,209.6 1021.5,209.8 1020.2,210.0 1019.0,210.2 1017.5,210.3 1016.0,210.5 1015.0,210.6 1013.5,210.8 1012.0,210.9 1011.0,211.0 1009.5,211.1 1008.0,211.3 1006.5,211.4 1005.0,211.5 1004.0,211.6 1002.5,211.7 1001.0,211.8 999.5,211.8 998.0,211.9 996.5,212.0 996.0,212.0" stroke="#797979" stroke-width="1.9"/><path d="M1253.5,227.5 1252.0,227.6 1250.5,227.6 1249.0,227.6 1247.5,227.6 1246.0,227.6 1244.5,227.6 1243.4,227.5 1242.0,227.4 1240.5,227.3 1239.0,227.2 1237.6,227.0 1236.5,226.9 1235.0,226.7 1233.9,226.5 1232.5,226.3 1231.0,226.0 1230.0,225.8 1228.6,225.5 1227.5,225.3 1226.4,225.0 1225.0,224.6 1224.0,224.4 1222.7,224.0 1221.5,223.6 1220.5,223.3 1219.5,223.0 1218.1,222.5 1217.0,222.1 1216.0,221.7 1215.0,221.3 1214.0,220.9 1213.0,220.4 1212.0,220.0 1211.0,219.5 1210.0,219.0 1209.0,218.5 1208.0,218.0 1207.0,217.4 1206.0,216.8 1205.0,216.2 1204.0,215.6 1203.1,215.0 1202.4,214.5 1201.5,213.9 1200.5,213.1 1199.7,212.5 1199.0,211.9 1198.0,211.1 1197.3,210.5 1196.5,209.7 1195.8,209.0 1195.0,208.2 1194.3,207.5 1193.5,206.5 1193.0,205.9 1192.3,205.0 1191.6,204.0 1191.0,203.1 1190.5,202.2 1190.0,201.2 1189.5,200.2 1189.0,199.0 1188.7,198.0 1188.5,197.0 1188.2,195.5 1188.1,194.0 1188.1,192.5 1188.3,191.0 1188.5,190.0 1189.0,188.5 1189.3,187.5 1189.8,186.5 1190.3,185.5 1190.8,184.5 1191.5,183.5 1192.0,182.7 1192.5,182.0 1193.3,181.0 1194.0,180.2 1194.7,179.5 1195.5,178.6 1196.1,178.0 1197.0,177.2 1197.8,176.5 1198.5,175.9 1199.5,175.1 1200.2,174.5 1201.0,173.9 1202.0,173.2 1203.0,172.5 1203.8,172.0 1204.6,171.5 1205.5,170.9 1206.5,170.4 1207.5,169.8 1208.5,169.2 1209.5,168.7 1210.5,168.2 1211.5,167.7 1212.5,167.3 1213.5,166.8 1214.5,166.4 1215.5,166.0 1216.8,165.5 1218.0,165.1 1219.0,164.7 1220.0,164.4 1221.2,164.0 1222.5,163.6 1223.5,163.3 1224.6,163.0 1226.0,162.6 1227.0,162.4 1228.5,162.1 1229.5,161.8 1231.0,161.5 1232.0,161.4 1233.5,161.1 1234.5,161.0 1236.0,160.7 1237.5,160.6 1238.5,160.4 1240.0,160.3 1241.5,160.2 1243.0,160.1 1244.5,160.0 1245.5,160.0 1247.0,159.9 1248.5,159.9 1250.0,159.9 1251.5,160.0 1252.5,160.0 1254.0,160.1 1255.5,160.2 1257.0,160.3 1258.5,160.4 1259.5,160.6 1261.0,160.7 1262.5,161.0 1263.5,161.1 1265.0,161.4 1266.0,161.6 1267.5,161.9 1268.5,162.1 1270.0,162.4 1271.0,162.7 1272.2,163.0 1273.5,163.4 1274.5,163.7 1275.5,164.0 1277.0,164.5 1278.0,164.9 1279.0,165.2 1280.0,165.6 1281.0,166.0 1282.1,166.5 1283.2,167.0 1284.3,167.5 1285.3,168.0 1286.2,168.5 1287.1,169.0 1288.0,169.5 1289.0,170.1 1290.0,170.7 1291.0,171.4 1291.9,172.0 1292.6,172.5 1293.5,173.2 1294.5,174.0 1295.1,174.5 1296.0,175.3 1296.7,176.0 1297.5,176.8 1298.2,177.5 1299.0,178.4 1299.5,179.0 1300.2,180.0 1301.0,181.0 1301.5,181.8 1302.0,182.7 1302.5,183.6 1303.0,184.6 1303.5,185.7 1304.0,187.0 1304.3,188.0 1304.6,189.0 1304.9,190.5 1305.0,191.5 1305.1,193.0 1305.1,194.5 1305.0,196.0 1304.9,197.0 1304.6,198.5 1304.3,199.5 1304.0,200.5 1303.5,201.9 1303.0,203.0 1302.5,204.0 1302.0,204.9 1301.5,205.7 1301.0,206.5 1300.3,207.5 1299.5,208.5 1299.0,209.1 1298.2,210.0 1297.5,210.8 1296.8,211.5 1296.0,212.2 1295.1,213.0 1294.5,213.5 1293.5,214.4 1292.7,215.0 1292.0,215.5 1291.0,216.2 1290.0,216.8 1289.0,217.5 1288.1,218.0 1287.2,218.5 1286.3,219.0 1285.4,219.5 1284.4,220.0 1283.3,220.5 1282.2,221.0 1281.1,221.5 1280.0,221.9 1279.0,222.3 1278.0,222.7 1277.0,223.1 1275.7,223.5 1274.5,223.9 1273.5,224.2 1272.4,224.5 1271.0,224.9 1270.0,225.1 1268.5,225.5 1267.5,225.7 1266.0,226.0 1265.0,226.2 1263.5,226.4 1262.5,226.6 1261.0,226.8 1259.5,227.0 1258.5,227.1 1257.0,227.3 1255.5,227.4 1254.0,227.5 1253.5,227.5" stroke="#949494" stroke-width="1.9"/><path d="M990.5,209.0 989.0,209.0 987.5,209.1 986.0,209.1 984.5,209.1 983.0,209.1 981.5,209.2 980.0,209.2 978.5,209.1 977.0,209.1 975.5,209.1 974.0,209.1 972.5,209.0 971.5,209.0 970.0,208.9 968.5,208.9 967.0,208.8 965.5,208.7 964.0,208.6 962.5,208.5 961.5,208.5 960.0,208.3 958.5,208.2 957.0,208.1 956.0,208.0 954.5,207.8 953.0,207.7 951.5,207.5 950.5,207.4 949.0,207.2 947.5,207.0 946.5,206.9 945.0,206.7 944.0,206.5 942.5,206.3 941.0,206.0 940.0,205.8 938.5,205.5 937.5,205.3 936.0,205.0 935.0,204.8 933.6,204.5 932.5,204.2 931.5,204.0 930.0,203.6 929.0,203.3 928.0,203.0 926.5,202.5 925.5,202.2 924.5,201.8 923.5,201.5 922.4,201.0 921.2,200.5 920.2,200.0 919.2,199.5 918.3,199.0 917.5,198.5 916.5,197.8 915.6,197.0 915.0,196.4 914.3,195.5 913.7,194.5 913.5,193.5 913.5,192.2 913.9,191.0 914.5,190.1 915.0,189.5 916.0,188.5 916.7,188.0 917.5,187.4 918.5,186.8 919.5,186.3 920.5,185.8 921.5,185.3 922.5,184.9 923.5,184.5 924.7,184.0 926.0,183.6 927.0,183.2 928.0,182.9 929.4,182.5 930.5,182.2 931.5,181.9 933.0,181.6 934.0,181.3 935.5,181.0 936.5,180.8 937.9,180.5 939.0,180.3 940.5,180.0 941.5,179.8 943.0,179.6 944.0,179.4 945.5,179.2 946.8,179.0 948.0,178.8 949.5,178.6 950.6,178.5 952.0,178.3 953.5,178.2 955.0,178.0 956.0,177.9 957.5,177.8 959.0,177.7 960.5,177.5 961.5,177.5 963.0,177.4 964.5,177.3 966.0,177.2 967.5,177.1 969.0,177.0 970.0,177.0 971.5,176.9 973.0,176.9 974.5,176.8 976.0,176.8 977.5,176.8 979.0,176.8 980.5,176.8 982.0,176.8 983.5,176.8 985.0,176.8 986.5,176.8 988.0,176.8 989.5,176.9 991.0,176.9 992.5,177.0 993.5,177.0 995.0,177.1 996.5,177.2 998.0,177.3 999.5,177.4 1001.0,177.5 1002.0,177.5 1003.5,177.7 1005.0,177.8 1006.5,177.9 1007.5,178.0 1009.0,178.2 1010.5,178.3 1011.9,178.5 1013.0,178.6 1014.5,178.8 1015.8,179.0 1017.0,179.2 1018.5,179.4 1019.5,179.6 1021.0,179.8 1022.2,180.0 1023.5,180.2 1024.9,180.5 1026.0,180.7 1027.3,181.0 1028.5,181.3 1029.6,181.5 1031.0,181.8 1032.0,182.1 1033.5,182.5 1034.5,182.8 1035.5,183.1 1036.9,183.5 1038.0,183.9 1039.0,184.2 1040.0,184.6 1041.1,185.0 1042.3,185.5 1043.4,186.0 1044.4,186.5 1045.3,187.0 1046.1,187.5 1047.0,188.1 1048.0,188.9 1048.6,189.5 1049.4,190.5 1050.0,191.5 1050.2,192.5 1050.1,194.0 1049.7,195.0 1049.0,196.0 1048.5,196.5 1047.5,197.4 1046.7,198.0 1046.0,198.5 1045.0,199.1 1044.0,199.6 1043.0,200.1 1042.0,200.5 1040.9,201.0 1039.6,201.5 1038.5,201.9 1037.5,202.2 1036.5,202.6 1035.1,203.0 1034.0,203.3 1033.0,203.6 1031.5,204.0 1030.5,204.2 1029.3,204.5 1028.0,204.8 1027.0,205.0 1025.5,205.3 1024.5,205.5 1023.0,205.8 1021.7,206.0 1020.5,206.2 1019.0,206.4 1018.0,206.6 1016.5,206.8 1015.2,207.0 1014.0,207.2 1012.5,207.3 1011.2,207.5 1010.0,207.6 1008.5,207.8 1007.0,207.9 1006.0,208.0 1004.5,208.2 1003.0,208.3 1001.5,208.4 1000.4,208.5 999.0,208.6 997.5,208.7 996.0,208.8 994.5,208.8 993.0,208.9 991.5,209.0 990.5,209.0" stroke="#949494" stroke-width="1.9"/><path d="M1251.5,220.5 1250.0,220.5 1248.5,220.6 1247.0,220.6 1245.5,220.5 1244.5,220.5 1243.0,220.4 1241.5,220.3 1240.0,220.1 1239.0,220.0 1237.5,219.8 1236.0,219.5 1235.0,219.4 1233.5,219.1 1232.5,218.9 1231.0,218.5 1230.0,218.3 1229.0,218.0 1227.5,217.6 1226.5,217.3 1225.5,216.9 1224.2,216.5 1223.0,216.0 1222.0,215.6 1221.0,215.2 1220.0,214.8 1219.0,214.3 1218.0,213.8 1217.0,213.3 1216.0,212.8 1215.0,212.2 1214.0,211.6 1213.1,211.0 1212.3,210.5 1211.5,209.9 1210.5,209.2 1209.7,208.5 1209.0,207.9 1208.0,207.0 1207.4,206.5 1206.5,205.5 1206.0,205.0 1205.2,204.0 1204.5,203.1 1204.0,202.4 1203.5,201.5 1202.9,200.5 1202.4,199.5 1202.0,198.4 1201.6,197.0 1201.4,196.0 1201.2,194.5 1201.2,193.0 1201.4,191.5 1201.6,190.5 1202.0,189.0 1202.4,188.0 1202.9,187.0 1203.4,186.0 1204.0,185.0 1204.5,184.3 1205.1,183.5 1205.9,182.5 1206.5,181.9 1207.4,181.0 1208.0,180.4 1209.0,179.5 1209.6,179.0 1210.5,178.3 1211.5,177.5 1212.3,177.0 1213.0,176.5 1214.0,175.9 1215.0,175.3 1216.0,174.7 1217.0,174.2 1218.0,173.6 1219.0,173.2 1220.0,172.7 1221.0,172.3 1222.0,171.9 1223.0,171.5 1224.3,171.0 1225.5,170.6 1226.5,170.3 1227.5,169.9 1229.0,169.5 1230.0,169.3 1231.0,169.0 1232.5,168.7 1233.5,168.5 1235.0,168.2 1236.0,168.0 1237.5,167.8 1239.0,167.6 1240.0,167.4 1241.5,167.3 1243.0,167.2 1244.5,167.1 1246.0,167.0 1247.0,167.0 1248.5,167.0 1250.0,167.0 1251.0,167.0 1252.5,167.1 1254.0,167.2 1255.5,167.3 1257.0,167.5 1258.0,167.6 1259.5,167.8 1260.7,168.0 1262.0,168.2 1263.3,168.5 1264.5,168.8 1265.5,169.0 1267.0,169.4 1268.0,169.7 1269.1,170.0 1270.5,170.4 1271.5,170.8 1272.5,171.2 1273.5,171.6 1274.6,172.0 1275.7,172.5 1276.8,173.0 1277.8,173.5 1278.7,174.0 1279.6,174.5 1280.5,175.0 1281.5,175.7 1282.5,176.3 1283.4,177.0 1284.1,177.5 1285.0,178.3 1285.9,179.0 1286.5,179.6 1287.4,180.5 1288.0,181.2 1288.7,182.0 1289.5,183.0 1290.0,183.7 1290.5,184.5 1291.1,185.5 1291.6,186.5 1292.0,187.5 1292.5,188.8 1292.8,190.0 1293.0,191.0 1293.2,192.5 1293.3,194.0 1293.2,195.5 1293.0,196.8 1292.7,198.0 1292.4,199.0 1292.0,200.2 1291.5,201.3 1291.0,202.2 1290.5,203.1 1289.9,204.0 1289.2,205.0 1288.5,205.8 1287.9,206.5 1287.0,207.5 1286.5,208.0 1285.5,208.9 1284.8,209.5 1284.0,210.1 1283.0,210.9 1282.1,211.5 1281.3,212.0 1280.5,212.5 1279.5,213.1 1278.5,213.7 1277.5,214.2 1276.5,214.7 1275.5,215.2 1274.5,215.6 1273.5,216.0 1272.2,216.5 1271.0,216.9 1270.0,217.3 1269.0,217.6 1267.6,218.0 1266.5,218.3 1265.5,218.6 1264.0,218.9 1263.0,219.1 1261.5,219.4 1260.5,219.6 1259.0,219.8 1257.6,220.0 1256.5,220.1 1255.0,220.3 1253.5,220.4 1252.0,220.5 1251.5,220.5" stroke="#b1b1b1" stroke-width="1.9"/><path d="M992.5,205.5 991.0,205.6 989.5,205.6 988.0,205.7 986.5,205.7 985.0,205.8 983.5,205.8 982.0,205.8 980.5,205.8 979.0,205.8 977.5,205.8 976.0,205.7 974.5,205.7 973.0,205.6 971.5,205.6 970.0,205.5 969.0,205.5 967.5,205.4 966.0,205.3 964.5,205.2 963.0,205.0 962.0,204.9 960.5,204.8 959.0,204.6 957.7,204.5 956.5,204.4 955.0,204.2 953.8,204.0 952.5,203.8 951.0,203.6 950.0,203.4 948.5,203.1 947.5,203.0 946.0,202.7 945.0,202.4 943.5,202.1 942.5,201.9 941.1,201.5 940.0,201.2 939.0,200.9 937.7,200.5 936.5,200.1 935.5,199.7 934.5,199.3 933.5,198.9 932.5,198.4 931.5,197.8 930.5,197.2 929.6,196.5 929.0,196.0 928.2,195.0 927.7,194.0 927.5,193.0 927.6,192.0 928.1,191.0 928.9,190.0 929.5,189.5 930.5,188.7 931.5,188.1 932.5,187.5 933.5,187.1 934.5,186.6 935.5,186.2 936.5,185.8 937.5,185.5 939.0,185.0 940.0,184.7 941.0,184.4 942.5,184.1 943.5,183.8 944.9,183.5 946.0,183.3 947.3,183.0 948.5,182.8 950.0,182.5 951.0,182.3 952.5,182.1 953.5,182.0 955.0,181.8 956.5,181.6 957.5,181.4 959.0,181.3 960.5,181.1 961.7,181.0 963.0,180.9 964.5,180.8 966.0,180.7 967.5,180.6 968.5,180.5 970.0,180.4 971.5,180.3 973.0,180.3 974.5,180.2 976.0,180.2 977.5,180.2 979.0,180.1 980.5,180.1 982.0,180.1 983.5,180.1 985.0,180.2 986.5,180.2 988.0,180.2 989.5,180.3 991.0,180.3 992.5,180.4 994.0,180.5 995.0,180.6 996.5,180.7 998.0,180.8 999.5,180.9 1000.7,181.0 1002.0,181.1 1003.5,181.3 1005.0,181.5 1006.0,181.6 1007.5,181.8 1009.0,182.0 1010.0,182.1 1011.5,182.4 1012.5,182.5 1014.0,182.8 1015.2,183.0 1016.5,183.3 1017.7,183.5 1019.0,183.8 1020.0,184.0 1021.5,184.4 1022.5,184.7 1023.6,185.0 1025.0,185.4 1026.0,185.8 1027.0,186.1 1028.0,186.5 1029.2,187.0 1030.2,187.5 1031.2,188.0 1032.0,188.5 1033.0,189.2 1034.0,190.0 1034.5,190.6 1035.1,191.5 1035.5,193.0 1035.1,194.5 1034.5,195.3 1033.9,196.0 1033.0,196.7 1032.0,197.4 1031.0,198.0 1030.1,198.5 1029.0,199.0 1028.0,199.4 1027.0,199.8 1026.0,200.2 1025.0,200.5 1023.5,201.0 1022.5,201.2 1021.5,201.5 1020.0,201.9 1019.0,202.1 1017.5,202.5 1016.5,202.7 1015.0,203.0 1014.0,203.1 1012.5,203.4 1011.5,203.6 1010.0,203.8 1008.7,204.0 1007.5,204.2 1006.0,204.3 1004.7,204.5 1003.5,204.6 1002.0,204.8 1000.5,204.9 999.5,205.0 998.0,205.1 996.5,205.3 995.0,205.4 993.5,205.4 992.5,205.5" stroke="#b1b1b1" stroke-width="1.9"/><path d="M1252.5,212.0 1251.0,212.1 1249.5,212.2 1248.0,212.2 1246.5,212.2 1245.0,212.1 1243.8,212.0 1242.5,211.9 1241.0,211.7 1239.8,211.5 1238.5,211.3 1237.1,211.0 1236.0,210.7 1235.0,210.5 1233.5,210.0 1232.5,209.7 1231.5,209.4 1230.5,209.0 1229.3,208.5 1228.2,208.0 1227.1,207.5 1226.2,207.0 1225.3,206.5 1224.5,206.0 1223.5,205.3 1222.5,204.6 1221.8,204.0 1221.0,203.3 1220.1,202.5 1219.5,201.8 1218.8,201.0 1218.1,200.0 1217.5,199.0 1217.0,198.0 1216.6,197.0 1216.4,196.0 1216.1,194.5 1216.1,193.0 1216.4,191.5 1216.6,190.5 1217.0,189.5 1217.5,188.5 1218.1,187.5 1218.8,186.5 1219.5,185.7 1220.1,185.0 1221.0,184.1 1221.7,183.5 1222.5,182.9 1223.5,182.2 1224.5,181.5 1225.3,181.0 1226.2,180.5 1227.1,180.0 1228.2,179.5 1229.3,179.0 1230.5,178.5 1231.5,178.1 1232.5,177.8 1233.5,177.5 1235.0,177.0 1236.0,176.8 1237.3,176.5 1238.5,176.3 1239.9,176.0 1241.0,175.8 1242.5,175.7 1244.0,175.5 1245.0,175.5 1246.5,175.4 1248.0,175.4 1249.5,175.4 1251.0,175.4 1252.0,175.5 1253.5,175.6 1255.0,175.8 1256.3,176.0 1257.5,176.2 1259.0,176.5 1260.0,176.7 1261.0,177.0 1262.5,177.4 1263.5,177.8 1264.5,178.1 1265.5,178.5 1266.7,179.0 1267.8,179.5 1268.8,180.0 1269.7,180.5 1270.5,181.0 1271.5,181.6 1272.5,182.3 1273.3,183.0 1274.0,183.6 1275.0,184.5 1275.5,185.1 1276.3,186.0 1277.0,187.0 1277.5,187.8 1278.0,188.7 1278.5,189.9 1278.8,191.0 1279.0,192.0 1279.2,193.5 1279.1,195.0 1279.0,196.0 1278.5,197.5 1278.2,198.5 1277.7,199.5 1277.1,200.5 1276.5,201.3 1275.9,202.0 1275.0,203.0 1274.5,203.5 1273.5,204.4 1272.8,205.0 1272.0,205.6 1271.0,206.3 1270.0,206.9 1269.0,207.4 1268.0,208.0 1267.0,208.4 1266.0,208.9 1265.0,209.3 1264.0,209.6 1262.9,210.0 1261.5,210.4 1260.5,210.7 1259.2,211.0 1258.0,211.2 1256.6,211.5 1255.5,211.7 1254.0,211.9 1252.6,212.0 1252.5,212.0" stroke="#d0d0d0" stroke-width="1.9"/><path d="M991.5,201.5 990.0,201.6 988.5,201.7 987.0,201.7 985.5,201.8 984.0,201.8 982.5,201.8 981.0,201.9 979.5,201.8 978.0,201.8 976.5,201.8 975.0,201.7 973.5,201.7 972.0,201.6 970.8,201.5 969.5,201.4 968.0,201.3 966.5,201.1 965.2,201.0 964.0,200.9 962.5,200.7 961.4,200.5 960.0,200.3 958.5,200.0 957.5,199.8 956.0,199.5 955.0,199.3 953.8,199.0 952.5,198.6 951.5,198.3 950.5,198.0 949.1,197.5 948.0,197.0 947.0,196.5 946.2,196.0 945.5,195.5 944.5,194.5 944.0,193.5 944.0,192.5 944.4,191.5 945.0,190.9 946.0,190.0 946.9,189.5 947.8,189.0 949.0,188.5 950.0,188.1 951.0,187.8 952.0,187.4 953.5,187.0 954.5,186.8 955.6,186.5 957.0,186.2 958.0,186.0 959.5,185.7 960.9,185.5 962.0,185.3 963.5,185.1 964.6,185.0 966.0,184.8 967.5,184.7 969.0,184.6 970.0,184.5 971.5,184.4 973.0,184.3 974.5,184.2 976.0,184.2 977.5,184.1 979.0,184.1 980.5,184.1 982.0,184.1 983.5,184.1 985.0,184.1 986.5,184.2 988.0,184.2 989.5,184.3 991.0,184.4 992.5,184.5 993.5,184.6 995.0,184.7 996.5,184.9 997.8,185.0 999.0,185.2 1000.5,185.4 1001.5,185.5 1003.0,185.8 1004.4,186.0 1005.5,186.2 1006.8,186.5 1008.0,186.8 1009.0,187.0 1010.5,187.5 1011.5,187.8 1012.5,188.1 1013.5,188.5 1014.7,189.0 1015.6,189.5 1016.5,190.0 1017.5,190.8 1018.1,191.5 1018.5,192.5 1018.5,193.6 1018.0,194.5 1017.0,195.5 1016.3,196.0 1015.5,196.5 1014.5,197.0 1013.3,197.5 1012.0,198.0 1011.0,198.3 1010.0,198.6 1008.6,199.0 1007.5,199.3 1006.5,199.5 1005.0,199.8 1004.0,200.0 1002.5,200.3 1001.0,200.5 1000.0,200.6 998.5,200.8 997.1,201.0 996.0,201.1 994.5,201.3 993.0,201.4 991.6,201.5 991.5,201.5" stroke="#d0d0d0" stroke-width="1.9"/></g><rect x="1032.5" y="152.7" width="145.5" height="24.8" fill="#fff" opacity="0.95"/><text x="1038.5" y="170.8" font-family="Liberation Sans" font-size="15.6" font-weight="bold" font-style="normal" fill="#5a5a5a" text-anchor="start" textLength="134.5" lengthAdjust="spacingAndGlyphs">None PDE solution</text><rect x="926" y="216.9" width="112" height="21.8" fill="#fff" opacity="0.95"/><text x="929" y="235" font-family="Liberation Sans" font-size="15.6" font-weight="bold" font-style="normal" fill="#4a9a47" text-anchor="start" textLength="105.5" lengthAdjust="spacingAndGlyphs">PDE solution 2</text><rect x="1192" y="216.9" width="112" height="21.8" fill="#fff" opacity="0.95"/><text x="1196" y="235" font-family="Liberation Sans" font-size="15.6" font-weight="bold" font-style="normal" fill="#f2a535" text-anchor="start" textLength="104.5" lengthAdjust="spacingAndGlyphs">PDE solution 1</text><polyline points="968,183.5 1002,183.5" stroke="#3e8e3a" stroke-width="3" fill="none"/><polyline points="969,186 980,187 981,192" stroke="#3e8e3a" stroke-width="3" fill="none"/><polyline points="990,193.5 1003,197 1041,198 1045.6,192.6 1070,203.7 1093.7,194.4 1108,193.5" stroke="#3e8e3a" stroke-width="2.6" fill="none" stroke-linejoin="round"/><polygon points="981.5,182.5 984.2,189.8 992.0,190.1 985.9,194.9 988.0,202.4 981.5,198.1 975.0,202.4 977.1,194.9 971.0,190.1 978.8,189.8" fill="#4a9a45"/><polyline points="1116,193 1126,191 1138.9,189 1125,194 1140,192 1140.4,186.2 1160.8,186.2 1179.8,193.5 1201.7,187.7 1206,193.5 1212,203.7 1216,193.5 1236.7,193.5 1248.3,200.8 1260,196.4" stroke="#f2a535" stroke-width="2.6" fill="none" stroke-linejoin="round"/><polygon points="1248.0,183.0 1250.6,189.9 1258.0,190.3 1252.2,194.9 1254.2,202.0 1248.0,197.9 1241.8,202.0 1243.8,194.9 1238.0,190.3 1245.4,189.9" fill="#f2a535"/><polygon points="1114,184.5 1123,193.5 1114,202.5 1105,193.5" fill="#8a8a8a"/><polyline points="1336,346.5 1336,267.2 1401,267.2" fill="none" stroke="#5aa65b" stroke-width="3.2"/><polygon points="1399.5,259.5 1415.5,267.2 1399.5,275" fill="#5aa65b"/><rect x="1419" y="207.3" width="50.1" height="120.4" fill="#acd3ab" stroke="#5aa65b" stroke-width="7.4"/><text x="1423" y="275.6" font-family="Liberation Serif" font-size="31" font-weight="normal" font-style="italic" fill="#000" text-anchor="start" stroke="#000" stroke-width="0.6" textLength="41" lengthAdjust="spacingAndGlyphs">VQ</text><line x1="1472" y1="267.3" x2="1483.0" y2="267.3" stroke="#5aa65b" stroke-width="3.2"/><polygon points="1482.5,259.3 1497.5,267.3 1482.5,275.3" fill="#5aa65b"/><polygon points="1501,218.5 1612,198.5 1612,337.5 1501,317.5" fill="#acd3ab" stroke="#5aa65b" stroke-width="8" stroke-linejoin="miter"/><text x="1526.5" y="281" font-family="Liberation Serif" font-size="64" font-weight="normal" font-style="italic" fill="#000" text-anchor="start" stroke="#000" stroke-width="0.9" textLength="47.5" lengthAdjust="spacingAndGlyphs">D</text><text x="1569" y="297" font-family="Liberation Serif" font-size="47" font-weight="normal" font-style="italic" fill="#000" text-anchor="start" stroke="#000" stroke-width="0.8">s</text><line x1="1616" y1="267.3" x2="1626.0" y2="267.3" stroke="#5aa65b" stroke-width="3.2"/><polygon points="1625.5,259.3 1641.5,267.3 1625.5,275.3" fill="#5aa65b"/><rect x="1641.8" y="176.8" width="183" height="183" fill="#737373"/><clipPath id="cb1657"><rect x="1641.8" y="176.8" width="7.6" height="183"/></clipPath><g clip-path="url(#cb1657)"><rect x="1638.8" y="204.8" width="13.6" height="4" fill="#858585" opacity="0.80" filter="url(#blU2)"/><rect x="1638.8" y="213.8" width="13.6" height="4" fill="#606060" opacity="0.71" filter="url(#blU2)"/><rect x="1638.8" y="222.8" width="13.6" height="4" fill="#858585" opacity="0.62" filter="url(#blU2)"/><rect x="1638.8" y="231.8" width="13.6" height="4" fill="#606060" opacity="0.53" filter="url(#blU2)"/><rect x="1638.8" y="240.8" width="13.6" height="4" fill="#858585" opacity="0.44" filter="url(#blU2)"/><rect x="1638.8" y="249.8" width="13.6" height="4" fill="#606060" opacity="0.35" filter="url(#blU2)"/><rect x="1638.8" y="258.8" width="13.6" height="4" fill="#858585" opacity="0.26" filter="url(#blU2)"/><rect x="1638.8" y="267.8" width="13.6" height="4" fill="#606060" opacity="0.17" filter="url(#blU2)"/><rect x="1638.8" y="276.8" width="13.6" height="4" fill="#858585" opacity="0.08" filter="url(#blU2)"/><polygon points="1639.8,184.3 1651.3999999999999,182.3 1651.3999999999999,188.3 1639.8,190.3" fill="#1e1e1e" filter="url(#blU)"/><polygon points="1639.8,190.3 1651.3999999999999,188.3 1651.3999999999999,195.3 1639.8,197.3" fill="#d8d8d8" filter="url(#blU)"/><polygon points="1639.8,197.3 1651.3999999999999,195.3 1651.3999999999999,198.3 1639.8,200.3" fill="#505050" filter="url(#blU)"/></g><rect x="1649.4" y="184.4" width="183" height="183" fill="#737373"/><clipPath id="cm1657"><rect x="1649.4" y="184.4" width="7.6" height="183"/></clipPath><g clip-path="url(#cm1657)"><rect x="1646.4" y="226.4" width="13.6" height="4" fill="#858585" opacity="0.80" filter="url(#blU2)"/><rect x="1646.4" y="235.4" width="13.6" height="4" fill="#606060" opacity="0.71" filter="url(#blU2)"/><rect x="1646.4" y="244.4" width="13.6" height="4" fill="#858585" opacity="0.62" filter="url(#blU2)"/><rect x="1646.4" y="253.4" width="13.6" height="4" fill="#606060" opacity="0.53" filter="url(#blU2)"/><rect x="1646.4" y="262.4" width="13.6" height="4" fill="#858585" opacity="0.44" filter="url(#blU2)"/><rect x="1646.4" y="271.4" width="13.6" height="4" fill="#606060" opacity="0.35" filter="url(#blU2)"/><rect x="1646.4" y="280.4" width="13.6" height="4" fill="#858585" opacity="0.26" filter="url(#blU2)"/><rect x="1646.4" y="289.4" width="13.6" height="4" fill="#606060" opacity="0.17" filter="url(#blU2)"/><rect x="1646.4" y="298.4" width="13.6" height="4" fill="#858585" opacity="0.08" filter="url(#blU2)"/><polygon points="1647.4,209.4 1659.0,207.4 1659.0,213.1 1647.4,215.1" fill="#222" filter="url(#blU)"/><polygon points="1647.4,215.1 1659.0,213.1 1659.0,220.4 1647.4,222.4" fill="#d4d4d4" filter="url(#blU)"/><polygon points="1647.4,222.4 1659.0,220.4 1659.0,223.9 1647.4,225.9" fill="#555" filter="url(#blU)"/></g><line x1="1649.4" y1="184.9" x2="1832.4" y2="184.9" stroke="#9a9a9a" stroke-width="1"/><line x1="1649.9" y1="184.4" x2="1649.9" y2="367.4" stroke="#b8b8b8" stroke-width="1"/><path d="M1720.4,192.3 Q1733.4,191.5 1739.4,186.9 Q1745.4,191.5 1758.4,192.3 Z" fill="#000" filter="url(#blU)"/><use href="#seis0" x="1657" y="192" width="183" height="183"/><line x1="1657" y1="192.5" x2="1840" y2="192.5" stroke="#9a9a9a" stroke-width="1"/><line x1="1657.5" y1="192" x2="1657.5" y2="375" stroke="#b8b8b8" stroke-width="1"/><text x="1606.6" y="147" font-family="Liberation Sans" font-size="22.5" font-weight="bold" font-style="normal" fill="#000" text-anchor="start" textLength="270" lengthAdjust="spacingAndGlyphs">Reconstructed Seismic</text><text x="1853" y="286.3" font-family="Liberation Serif" font-size="46" font-weight="normal" font-style="italic" fill="#000" text-anchor="start" stroke="#000" stroke-width="0.9">s</text><polygon points="1856.75,261.6 1862.4,254 1865.6,254 1871.25,261.6 1869.22,261.90000000000003 1864,256.9 1858.78,261.90000000000003" fill="#000"/><polyline points="1335,445 1335,546.5 1398,546.5" fill="none" stroke="#5383e6" stroke-width="3.2"/><polygon points="1397,538.5 1413.8,546.5 1397,554.5" fill="#5383e6"/><rect x="1420.1" y="483.4" width="49.8" height="120.2" fill="#abc1f2" stroke="#5383e6" stroke-width="7.7"/><text x="1424" y="551.3" font-family="Liberation Serif" font-size="31" font-weight="normal" font-style="italic" fill="#000" text-anchor="start" stroke="#000" stroke-width="0.6" textLength="41.5" lengthAdjust="spacingAndGlyphs">VQ</text><line x1="1473" y1="546.5" x2="1483.0" y2="546.5" stroke="#5383e6" stroke-width="3.2"/><polygon points="1482.5,538.5 1497.5,546.5 1482.5,554.5" fill="#5383e6"/><polygon points="1501,493.5 1612.2,472.8 1612.2,612.2 1501,592" fill="#abc1f2" stroke="#5383e6" stroke-width="8" stroke-linejoin="miter"/><text x="1526.5" y="554.3" font-family="Liberation Serif" font-size="64" font-weight="normal" font-style="italic" fill="#000" text-anchor="start" stroke="#000" stroke-width="0.9" textLength="46.5" lengthAdjust="spacingAndGlyphs">D</text><text x="1570" y="571" font-family="Liberation Serif" font-size="47" font-weight="normal" font-style="italic" fill="#000" text-anchor="start" stroke="#000" stroke-width="0.8">v</text><line x1="1616" y1="546.5" x2="1625.8" y2="546.5" stroke="#5383e6" stroke-width="3.2"/><polygon points="1625.3,538.5 1641.3,546.5 1625.3,554.5" fill="#5383e6"/><use href="#vel" x="1642" y="444.5" width="197" height="196"/><text x="1612" y="678" font-family="Liberation Sans" font-size="23" font-weight="bold" font-style="normal" fill="#000" text-anchor="start" textLength="267.5" lengthAdjust="spacingAndGlyphs">Reconstructed Velocity</text><text x="1852" y="556.6" font-family="Liberation Serif" font-size="46" font-weight="normal" font-style="italic" fill="#000" text-anchor="start" stroke="#000" stroke-width="0.9">v</text><polygon points="1855.35,532.8000000000001 1861.0,525.2 1864.1999999999998,525.2 1869.85,532.8000000000001 1867.82,533.1 1862.6,528.1 1857.3799999999999,533.1" fill="#000"/><line x1="918.9" y1="560.2" x2="1322.8" y2="560.2" stroke="#dedede" stroke-width="1.6"/><line x1="918.9" y1="583.9" x2="1322.8" y2="583.9" stroke="#dedede" stroke-width="1.6"/><line x1="918.9" y1="607.4" x2="1322.8" y2="607.4" stroke="#dedede" stroke-width="1.6"/><line x1="918.9" y1="631.25" x2="1322.8" y2="631.25" stroke="#dedede" stroke-width="1.6"/><line x1="918.9" y1="655.9" x2="1322.8" y2="655.9" stroke="#dedede" stroke-width="1.6"/><line x1="918.9" y1="679.9" x2="1322.8" y2="679.9" stroke="#dedede" stroke-width="1.6"/><line x1="924.5" y1="514" x2="924.5" y2="709" stroke="#dcdcdc" stroke-width="1"/><line x1="924.5" y1="514" x2="924.5" y2="531.0" stroke="#999" stroke-width="2.8" stroke-dasharray="5.5 5.5"/><polygon points="918.0,530.5 924.5,542.5 931.0,530.5" fill="#999"/><line x1="924.5" y1="555.5" x2="924.5" y2="698.9" stroke="#999" stroke-width="2.8" stroke-dasharray="5.5 5.5"/><polygon points="918.25,698.4 924.5,710.4 930.75,698.4" fill="#999"/><line x1="1002.8" y1="514" x2="1002.8" y2="709" stroke="#dcdcdc" stroke-width="1"/><line x1="1002.8" y1="514" x2="1002.8" y2="558.0" stroke="#999" stroke-width="2.8" stroke-dasharray="5.5 5.5"/><polygon points="996.3,557.5 1002.8,569.5 1009.3,557.5" fill="#999"/><line x1="1002.8" y1="582.5" x2="1002.8" y2="698.9" stroke="#999" stroke-width="2.8" stroke-dasharray="5.5 5.5"/><polygon points="996.55,698.4 1002.8,710.4 1009.05,698.4" fill="#999"/><line x1="1081" y1="514" x2="1081" y2="709" stroke="#dcdcdc" stroke-width="1"/><line x1="1081" y1="514" x2="1081" y2="611.5" stroke="#999" stroke-width="2.8" stroke-dasharray="5.5 5.5"/><polygon points="1074.5,611.0 1081,623.0 1087.5,611.0" fill="#999"/><line x1="1081" y1="636.0" x2="1081" y2="698.9" stroke="#999" stroke-width="2.8" stroke-dasharray="5.5 5.5"/><polygon points="1074.75,698.4 1081,710.4 1087.25,698.4" fill="#999"/><line x1="1159.6" y1="514" x2="1159.6" y2="709" stroke="#dcdcdc" stroke-width="1"/><line x1="1159.6" y1="514" x2="1159.6" y2="640.5" stroke="#999" stroke-width="2.8" stroke-dasharray="5.5 5.5"/><polygon points="1153.1,640.0 1159.6,652.0 1166.1,640.0" fill="#999"/><line x1="1159.6" y1="665.0" x2="1159.6" y2="698.9" stroke="#999" stroke-width="2.8" stroke-dasharray="5.5 5.5"/><polygon points="1153.35,698.4 1159.6,710.4 1165.85,698.4" fill="#999"/><line x1="1237.7" y1="514" x2="1237.7" y2="709" stroke="#dcdcdc" stroke-width="1"/><line x1="1237.7" y1="514" x2="1237.7" y2="658.8" stroke="#999" stroke-width="2.8" stroke-dasharray="5.5 5.5"/><polygon points="1231.2,658.3 1237.7,670.3 1244.2,658.3" fill="#999"/><line x1="1237.7" y1="683.3" x2="1237.7" y2="698.9" stroke="#999" stroke-width="2.8" stroke-dasharray="5.5 5.5"/><polygon points="1231.45,698.4 1237.7,710.4 1243.95,698.4" fill="#999"/><line x1="1316" y1="514" x2="1316" y2="709" stroke="#dcdcdc" stroke-width="1"/><line x1="1316" y1="514" x2="1316" y2="664.3" stroke="#999" stroke-width="2.8" stroke-dasharray="5.5 5.5"/><polygon points="1309.5,663.8 1316,675.8 1322.5,663.8" fill="#999"/><line x1="1316" y1="688.8" x2="1316" y2="698.9" stroke="#999" stroke-width="2.8" stroke-dasharray="5.5 5.5"/><polygon points="1309.75,698.4 1316,710.4 1322.25,698.4" fill="#999"/><path d="M924.5,549 C940,553 952,555 965,558 C980,563 992,569 1002.8,576 C1030,592 1055,612 1081,629.5 C1105,645 1130,652 1159.6,658.5 C1190,666 1212,673 1237.7,676.8 C1265,681 1290,682 1316,682.3" fill="none" stroke="#0a0af0" stroke-width="3.2"/><circle cx="924.5" cy="549" r="4.1" fill="#1a1aff" stroke="#000" stroke-width="4.9"/><circle cx="1002.8" cy="576" r="4.1" fill="#1a1aff" stroke="#000" stroke-width="4.9"/><circle cx="1081" cy="629.5" r="4.1" fill="#1a1aff" stroke="#000" stroke-width="4.9"/><circle cx="1159.6" cy="658.5" r="4.1" fill="#1a1aff" stroke="#000" stroke-width="4.9"/><circle cx="1237.7" cy="676.8" r="4.1" fill="#1a1aff" stroke="#000" stroke-width="4.9"/><circle cx="1316" cy="682.3" r="4.1" fill="#1a1aff" stroke="#000" stroke-width="4.9"/><text x="0" y="0" font-family="Liberation Sans" font-size="19.5" font-weight="bold" font-style="normal" fill="#000" text-anchor="start" transform="translate(911.8,582) rotate(-90)" textLength="42" lengthAdjust="spacingAndGlyphs">High</text><text x="0" y="0" font-family="Liberation Sans" font-size="19.5" font-weight="bold" font-style="normal" fill="#000" text-anchor="start" transform="translate(911.8,706.5) rotate(-90)" textLength="40" lengthAdjust="spacingAndGlyphs">Low</text><line x1="906" y1="603" x2="906" y2="631" stroke="#000" stroke-width="4"/><polygon points="898.5,629.5 906,647.6 913.5,629.5" fill="#000"/><text x="670.6" y="620.6" font-family="Liberation Sans" font-size="22" font-weight="bold" font-style="normal" fill="#000" text-anchor="start" textLength="216" lengthAdjust="spacingAndGlyphs">Deviation from PDE</text><text x="759" y="647.7" font-family="Liberation Sans" font-size="22" font-weight="bold" font-style="normal" fill="#000" text-anchor="start" textLength="40" lengthAdjust="spacingAndGlyphs">(L2)</text><text x="681.5" y="795.4" font-family="Liberation Sans" font-size="21" font-weight="bold" font-style="normal" fill="#000" text-anchor="start" textLength="176.2" lengthAdjust="spacingAndGlyphs">Joint Generation</text><use href="#seisT" x="888.2" y="711" width="74.0" height="73.7"/><use href="#seisT" x="965" y="711" width="74" height="73.7"/><use href="#seisT" x="1042" y="711" width="75" height="73.7"/><use href="#seis4" x="1122" y="711" width="74.5" height="73.7"/><use href="#seis4" x="1202" y="711" width="74" height="73.7"/><use href="#seis4" x="1280" y="711" width="74" height="73.7"/><use href="#veln1" x="888.2" y="790" width="74.0" height="74.2"/><use href="#veln2" x="964.2" y="790" width="74.29999999999995" height="74.2"/><use href="#veln3" x="1042" y="791" width="75" height="74.2"/><use href="#vel4" x="1122.6" y="791" width="74.30000000000018" height="74.2"/><use href="#vel5" x="1201.9" y="791" width="74.0" height="74.2"/><use href="#vel" x="1280.6" y="791" width="74.40000000000009" height="74.2"/>
</svg>
</body></html>
